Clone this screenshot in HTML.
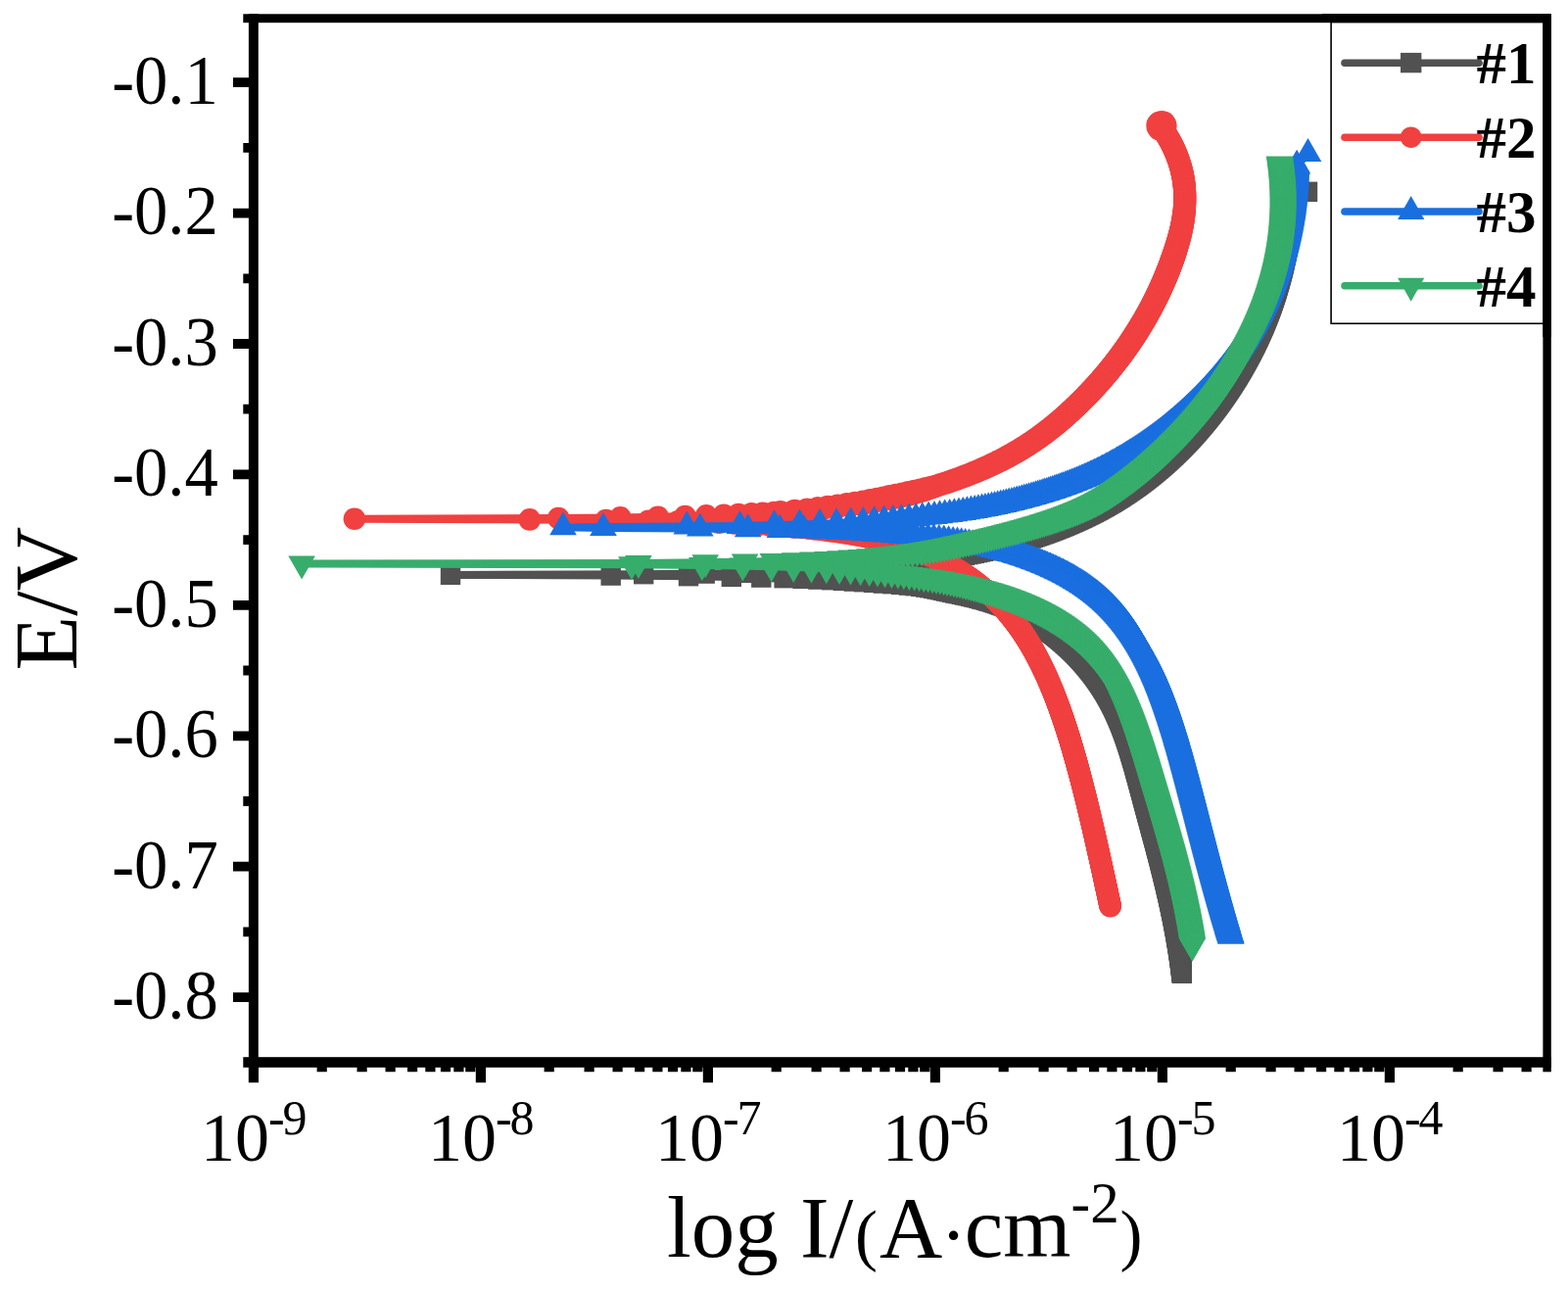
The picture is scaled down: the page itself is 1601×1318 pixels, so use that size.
<!DOCTYPE html>
<html lang="en"><head><meta charset="utf-8"><title>Polarization curves</title>
<style>html,body{margin:0;padding:0;background:#fff}body{width:1601px;height:1318px;overflow:hidden}svg{display:block}</style></head>
<body>
<svg width="1601" height="1318" viewBox="0 0 1601 1318">
<defs>
<marker id="mk" markerUnits="userSpaceOnUse" markerWidth="40" markerHeight="40" refX="20" refY="20" viewBox="0 0 40 40" overflow="visible"><rect x="9.8" y="9.8" width="20.4" height="20.4" fill="#515151"/></marker>
<marker id="mr" markerUnits="userSpaceOnUse" markerWidth="40" markerHeight="40" refX="20" refY="20" viewBox="0 0 40 40" overflow="visible"><circle cx="20" cy="20" r="11.3" fill="#F14040"/></marker>
<marker id="mb" markerUnits="userSpaceOnUse" markerWidth="40" markerHeight="40" refX="20" refY="20" viewBox="0 0 40 40" overflow="visible"><path d="M20 4L33.8 28H6.2Z" fill="#1A6FDF"/></marker>
<marker id="mg" markerUnits="userSpaceOnUse" markerWidth="40" markerHeight="40" refX="20" refY="20" viewBox="0 0 40 40" overflow="visible"><path d="M20 36L33.8 12H6.2Z" fill="#37AD6B"/></marker>
</defs>
<rect width="1601" height="1318" fill="#fff"/>
<g fill="none" stroke-width="8" stroke-linejoin="round" stroke-linecap="round">
<polyline stroke="#515151" marker-start="url(#mk)" marker-mid="url(#mk)" marker-end="url(#mk)" points="1206.8,993.8 1206.7,993.1 1206.7,992.4 1206.6,991.8 1206.5,991.1 1206.4,990.4 1206.4,989.8 1206.3,989.1 1206.2,988.4 1206.1,987.8 1206,987.1 1206,986.4 1205.9,985.8 1205.8,985.1 1205.7,984.4 1205.6,983.8 1205.6,983.1 1205.5,982.4 1205.4,981.8 1205.3,981.1 1205.2,980.4 1205.1,979.8 1205,979.1 1204.9,978.4 1204.8,977.8 1204.8,977.1 1204.7,976.4 1204.6,975.8 1204.5,975.1 1204.4,974.4 1204.3,973.8 1204.2,973.1 1204.1,972.4 1204,971.7 1203.9,971.1 1203.8,970.4 1203.7,969.7 1203.6,969.1 1203.5,968.4 1203.4,967.7 1203.3,967.1 1203.2,966.4 1203.1,965.7 1203,965.1 1202.9,964.4 1202.8,963.7 1202.7,963.1 1202.6,962.4 1202.5,961.7 1202.4,961.1 1202.3,960.4 1202.2,959.7 1202,959.1 1201.9,958.4 1201.8,957.7 1201.7,957.1 1201.6,956.4 1201.5,955.7 1201.4,955.1 1201.3,954.4 1201.1,953.7 1201,953.1 1200.9,952.4 1200.8,951.7 1200.7,951.1 1200.6,950.4 1200.4,949.7 1200.3,949.1 1200.2,948.4 1200.1,947.7 1200,947.1 1199.8,946.4 1199.7,945.7 1199.6,945.1 1199.5,944.4 1199.4,943.7 1199.2,943.1 1199.1,942.4 1199,941.7 1198.9,941.1 1198.7,940.4 1198.6,939.7 1198.5,939.1 1198.3,938.4 1198.2,937.7 1198.1,937.1 1198,936.4 1197.8,935.7 1197.7,935.1 1197.6,934.4 1197.4,933.7 1197.3,933.1 1197.2,932.4 1197,931.7 1196.9,931.1 1196.8,930.4 1196.6,929.7 1196.5,929.1 1196.4,928.4 1196.2,927.7 1196.1,927.1 1195.9,926.4 1195.8,925.7 1195.7,925.1 1195.5,924.4 1195.4,923.7 1195.2,923.1 1195.1,922.4 1195,921.7 1194.8,921.1 1194.7,920.4 1194.5,919.7 1194.4,919.1 1194.2,918.4 1194.1,917.7 1194,917.1 1193.8,916.4 1193.7,915.7 1193.5,915.1 1193.4,914.4 1193.2,913.7 1193.1,913.1 1192.9,912.4 1192.8,911.7 1192.6,911.1 1192.5,910.4 1192.3,909.7 1192.2,909.1 1192,908.4 1191.9,907.7 1191.7,907.1 1191.6,906.4 1191.4,905.7 1191.3,905 1191.1,904.4 1190.9,903.7 1190.8,903 1190.6,902.4 1190.5,901.7 1190.3,901 1190.2,900.4 1190,899.7 1189.8,899 1189.7,898.4 1189.5,897.7 1189.4,897 1189.2,896.4 1189,895.7 1188.9,895 1188.7,894.4 1188.6,893.7 1188.4,893 1188.2,892.4 1188.1,891.7 1187.9,891 1187.7,890.4 1187.6,889.7 1187.4,889 1187.3,888.4 1187.1,887.7 1186.9,887 1186.8,886.4 1186.6,885.7 1186.4,885 1186.3,884.4 1186.1,883.7 1185.9,883 1185.8,882.4 1185.6,881.7 1185.4,881 1185.3,880.4 1185.1,879.7 1184.9,879 1184.7,878.4 1184.6,877.7 1184.4,877 1184.2,876.4 1184.1,875.7 1183.9,875 1183.7,874.4 1183.5,873.7 1183.4,873 1183.2,872.4 1183,871.7 1182.9,871 1182.7,870.4 1182.5,869.7 1182.3,869 1182.2,868.4 1182,867.7 1181.8,867 1181.6,866.4 1181.5,865.7 1181.3,865 1181.1,864.4 1180.9,863.7 1180.8,863 1180.6,862.4 1180.4,861.7 1180.2,861 1180.1,860.4 1179.9,859.7 1179.7,859 1179.5,858.4 1179.3,857.7 1179.2,857 1179,856.4 1178.8,855.7 1178.6,855 1178.5,854.4 1178.3,853.7 1178.1,853 1177.9,852.4 1177.7,851.7 1177.6,851 1177.4,850.4 1177.2,849.7 1177,849 1176.8,848.4 1176.7,847.7 1176.5,847 1176.3,846.4 1176.1,845.7 1175.9,845 1175.8,844.4 1175.6,843.7 1175.4,843 1175.2,842.4 1175,841.7 1174.9,841 1174.7,840.4 1174.5,839.7 1174.3,839 1174.1,838.3 1174,837.7 1173.8,837 1173.6,836.3 1173.4,835.7 1173.2,835 1173.1,834.3 1172.9,833.7 1172.7,833 1172.5,832.3 1172.3,831.7 1172.1,831 1172,830.3 1171.8,829.7 1171.6,829 1171.4,828.3 1171.2,827.7 1171.1,827 1170.9,826.3 1170.7,825.7 1170.5,825 1170.3,824.3 1170.2,823.7 1170,823 1169.8,822.3 1169.6,821.7 1169.4,821 1169.3,820.3 1169.1,819.7 1168.9,819 1168.7,818.3 1168.5,817.7 1168.4,817 1168.2,816.3 1168,815.7 1167.8,815 1167.7,814.3 1167.5,813.7 1167.3,813 1167.1,812.3 1166.9,811.7 1166.8,811 1166.6,810.3 1166.4,809.7 1166.2,809 1166.1,808.3 1165.9,807.7 1165.7,807 1165.5,806.3 1165.3,805.7 1165.2,805 1165,804.3 1164.8,803.7 1164.6,803 1164.5,802.3 1164.3,801.7 1164.1,801 1163.9,800.3 1163.7,799.7 1163.6,799 1163.4,798.3 1163.2,797.7 1163,797 1162.8,796.3 1162.7,795.7 1162.5,795 1162.3,794.3 1162.1,793.7 1161.9,793 1161.8,792.3 1161.6,791.7 1161.4,791 1161.2,790.3 1161,789.7 1160.8,789 1160.7,788.3 1160.5,787.7 1160.3,787 1160.1,786.3 1159.9,785.7 1159.7,785 1159.6,784.3 1159.4,783.7 1159.2,783 1159,782.3 1158.8,781.7 1158.6,781 1158.4,780.3 1158.2,779.7 1158.1,779 1157.9,778.3 1157.7,777.7 1157.5,777 1157.3,776.3 1157.1,775.7 1156.9,775 1156.7,774.3 1156.5,773.7 1156.3,773 1156.1,772.3 1155.9,771.6 1155.7,771 1155.5,770.3 1155.3,769.6 1155.1,769 1154.9,768.3 1154.7,767.6 1154.5,767 1154.3,766.3 1154.1,765.6 1153.9,765 1153.7,764.3 1153.5,763.6 1153.3,763 1153.1,762.3 1152.9,761.6 1152.7,761 1152.4,760.3 1152.2,759.6 1152,759 1151.8,758.3 1151.6,757.6 1151.4,757 1151.2,756.3 1150.9,755.6 1150.7,755 1150.5,754.3 1150.3,753.6 1150,753 1149.8,752.3 1149.6,751.6 1149.4,751 1149.1,750.3 1148.9,749.6 1148.7,749 1148.4,748.3 1148.2,747.6 1147.9,747 1147.7,746.3 1147.5,745.6 1147.2,745 1147,744.3 1146.7,743.6 1146.5,743 1146.2,742.3 1146,741.6 1145.7,741 1145.5,740.3 1145.2,739.6 1145,739 1144.7,738.3 1144.4,737.6 1144.2,737 1143.9,736.3 1143.6,735.6 1143.4,735 1143.1,734.3 1142.8,733.6 1142.5,733 1142.3,732.3 1142,731.6 1141.7,731 1141.4,730.3 1141.1,729.6 1140.8,729 1140.5,728.3 1140.2,727.6 1139.9,727 1139.6,726.3 1139.3,725.6 1139,725 1138.7,724.3 1138.4,723.6 1138.1,723 1137.8,722.3 1137.4,721.6 1137.1,721 1136.8,720.3 1136.5,719.6 1136.1,719 1135.8,718.3 1135.4,717.6 1135.1,717 1134.8,716.3 1134.4,715.6 1134.1,715 1133.7,714.3 1133.3,713.6 1133,713 1132.6,712.3 1132.2,711.6 1131.9,711 1131.5,710.3 1131.1,709.6 1130.7,709 1130.4,708.3 1130,707.6 1129.6,707 1129.2,706.3 1128.8,705.6 1128.4,704.9 1128,704.3 1127.6,703.6 1127.1,702.9 1126.7,702.3 1126.3,701.6 1125.9,700.9 1125.5,700.3 1125,699.6 1124.6,698.9 1124.1,698.3 1123.7,697.6 1123.3,696.9 1122.8,696.3 1122.4,695.6 1121.9,694.9 1121.4,694.3 1121,693.6 1120.5,692.9 1120,692.3 1119.5,691.6 1119.1,690.9 1118.6,690.3 1118.1,689.6 1117.6,688.9 1117.1,688.3 1116.6,687.6 1116.1,686.9 1115.6,686.3 1115.1,685.6 1114.5,684.9 1114,684.3 1113.5,683.6 1112.9,682.9 1112.4,682.3 1111.9,681.6 1111.3,680.9 1110.8,680.3 1110.2,679.6 1109.6,678.9 1109.1,678.3 1108.5,677.6 1107.9,676.9 1107.4,676.3 1106.8,675.6 1106.2,674.9 1105.6,674.3 1105,673.6 1104.4,672.9 1103.8,672.3 1103.1,671.6 1102.5,670.9 1101.9,670.3 1101.3,669.6 1100.6,668.9 1100,668.3 1099.3,667.6 1098.7,666.9 1098,666.3 1097.3,665.6 1096.7,664.9 1096,664.3 1095.3,663.6 1094.6,662.9 1093.9,662.3 1093.2,661.6 1092.5,660.9 1091.8,660.3 1091,659.6 1090.3,658.9 1089.6,658.3 1088.8,657.6 1088.1,656.9 1087.3,656.3 1086.5,655.6 1085.8,654.9 1085,654.3 1084.2,653.6 1083.4,652.9 1082.6,652.3 1081.8,651.6 1080.9,650.9 1080.1,650.3 1079.3,649.6 1078.4,648.9 1077.6,648.3 1076.7,647.6 1075.8,646.9 1074.9,646.3 1074,645.6 1073.1,644.9 1072.2,644.3 1071.3,643.6 1070.3,642.9 1069.4,642.3 1068.4,641.6 1067.5,640.9 1066.5,640.3 1065.5,639.6 1064.5,638.9 1063.5,638.2 1062.5,637.6 1061.4,636.9 1060.4,636.2 1059.3,635.6 1058.2,634.9 1057.1,634.2 1056,633.6 1054.9,632.9 1053.8,632.2 1052.6,631.6 1051.4,630.9 1050.2,630.2 1049,629.6 1047.7,628.9 1046.5,628.2 1045.2,627.6 1043.9,626.9 1042.5,626.2 1041.1,625.6 1039.7,624.9 1038.3,624.2 1036.8,623.6 1035.3,622.9 1033.8,622.2 1032.2,621.6 1030.6,620.9 1028.9,620.2 1027.2,619.6 1025.5,618.9 1023.7,618.2 1021.8,617.6 1019.9,616.9 1017.9,616.2 1015.9,615.6 1013.8,614.9 1011.6,614.2 1009.3,613.6 1007,612.9 1004.6,612.2 1002.1,611.6 999.5,610.9 996.8,610.2 994,609.6 991.1,608.9 988.1,608.2 984.9,607.6 981.8,606.9 978.5,606.2 975.3,605.6 972.1,604.9 969,604.2 966,603.6 962.9,602.9 959.8,602.2 956.6,601.6 953.1,600.9 949.3,600.2 945.1,599.6 940.2,598.9 934.5,598.2 927.9,597.6 920.1,596.9 911.4,596.2 901.9,595.6 892,594.9 882,594.2 871.8,593.6 860.9,592.9 849,592.2 835.4,591.6 819.6,590.9 800.6,590.2 777.3,589.6 746.8,588.9 703,588.2 623.7,587.6 460,586.9 657.2,586.2 719.7,585.6 757.9,584.9 785.5,584.2 807.1,583.6 824.9,582.9 839.9,582.2 853,581.6 864.6,580.9 874.9,580.2 884.3,579.6 892.9,578.9 900.8,578.2 908.2,577.6 915,576.9 921.4,576.2 927.4,575.6 933.1,574.9 938.6,574.2 943.7,573.6 948.6,572.9 953.3,572.2 957.8,571.5 962.1,570.9 966.2,570.2 970.2,569.5 974.1,568.9 977.8,568.2 981.4,567.5 984.9,566.9 988.3,566.2 991.6,565.5 994.8,564.9 998,564.2 1001,563.5 1004,562.9 1006.9,562.2 1009.8,561.5 1012.6,560.9 1015.3,560.2 1018,559.5 1020.6,558.9 1023.1,558.2 1025.7,557.5 1028.1,556.9 1030.6,556.2 1032.9,555.5 1035.3,554.9 1037.6,554.2 1039.8,553.5 1042.1,552.9 1044.3,552.2 1046.4,551.5 1048.5,550.9 1050.6,550.2 1052.7,549.5 1054.7,548.9 1056.7,548.2 1058.7,547.5 1060.6,546.9 1062.5,546.2 1064.4,545.5 1066.3,544.9 1068.1,544.2 1069.9,543.5 1071.7,542.9 1073.5,542.2 1075.2,541.5 1076.9,540.9 1078.6,540.2 1080.3,539.5 1082,538.9 1083.6,538.2 1085.3,537.5 1086.9,536.9 1088.4,536.2 1090,535.5 1091.6,534.9 1093.1,534.2 1094.6,533.5 1096.1,532.9 1097.6,532.2 1099.1,531.5 1100.5,530.9 1101.9,530.2 1103.4,529.5 1104.8,528.9 1106.2,528.2 1107.5,527.5 1108.9,526.9 1110.2,526.2 1111.6,525.5 1112.9,524.9 1114.2,524.2 1115.5,523.5 1116.8,522.9 1118.1,522.2 1119.3,521.5 1120.6,520.9 1121.8,520.2 1123,519.5 1124.2,518.9 1125.4,518.2 1126.6,517.5 1127.8,516.9 1129,516.2 1130.1,515.5 1131.3,514.9 1132.4,514.2 1133.5,513.5 1134.7,512.9 1135.8,512.2 1136.9,511.5 1137.9,510.9 1139,510.2 1140.1,509.5 1141.2,508.9 1142.2,508.2 1143.3,507.5 1144.3,506.9 1145.3,506.2 1146.3,505.5 1147.4,504.8 1148.4,504.2 1149.4,503.5 1150.4,502.8 1151.3,502.2 1152.3,501.5 1153.3,500.8 1154.2,500.2 1155.2,499.5 1156.1,498.8 1157.1,498.2 1158,497.5 1159,496.8 1159.9,496.2 1160.8,495.5 1161.7,494.8 1162.6,494.2 1163.5,493.5 1164.4,492.8 1165.3,492.2 1166.2,491.5 1167,490.8 1167.9,490.2 1168.8,489.5 1169.6,488.8 1170.5,488.2 1171.3,487.5 1172.2,486.8 1173,486.2 1173.8,485.5 1174.7,484.8 1175.5,484.2 1176.3,483.5 1177.1,482.8 1177.9,482.2 1178.7,481.5 1179.5,480.8 1180.3,480.2 1181.1,479.5 1181.9,478.8 1182.7,478.2 1183.5,477.5 1184.2,476.8 1185,476.2 1185.8,475.5 1186.5,474.8 1187.3,474.2 1188,473.5 1188.8,472.8 1189.5,472.2 1190.3,471.5 1191,470.8 1191.7,470.2 1192.5,469.5 1193.2,468.8 1193.9,468.2 1194.6,467.5 1195.3,466.8 1196,466.2 1196.8,465.5 1197.5,464.8 1198.2,464.2 1198.9,463.5 1199.5,462.8 1200.2,462.2 1200.9,461.5 1201.6,460.8 1202.3,460.2 1203,459.5 1203.6,458.8 1204.3,458.2 1205,457.5 1205.6,456.8 1206.3,456.2 1206.9,455.5 1207.6,454.8 1208.2,454.2 1208.9,453.5 1209.5,452.8 1210.2,452.2 1210.8,451.5 1211.4,450.8 1212.1,450.2 1212.7,449.5 1213.3,448.8 1213.9,448.2 1214.6,447.5 1215.2,446.8 1215.8,446.2 1216.4,445.5 1217,444.8 1217.6,444.2 1218.2,443.5 1218.8,442.8 1219.4,442.2 1220,441.5 1220.6,440.8 1221.2,440.2 1221.8,439.5 1222.3,438.8 1222.9,438.1 1223.5,437.5 1224.1,436.8 1224.6,436.1 1225.2,435.5 1225.8,434.8 1226.4,434.1 1226.9,433.5 1227.5,432.8 1228,432.1 1228.6,431.5 1229.1,430.8 1229.7,430.1 1230.2,429.5 1230.8,428.8 1231.3,428.1 1231.9,427.5 1232.4,426.8 1232.9,426.1 1233.5,425.5 1234,424.8 1234.5,424.1 1235.1,423.5 1235.6,422.8 1236.1,422.1 1236.6,421.5 1237.1,420.8 1237.7,420.1 1238.2,419.5 1238.7,418.8 1239.2,418.1 1239.7,417.5 1240.2,416.8 1240.7,416.1 1241.2,415.5 1241.7,414.8 1242.2,414.1 1242.7,413.5 1243.2,412.8 1243.7,412.1 1244.2,411.5 1244.6,410.8 1245.1,410.1 1245.6,409.5 1246.1,408.8 1246.6,408.1 1247,407.5 1247.5,406.8 1248,406.1 1248.4,405.5 1248.9,404.8 1249.4,404.1 1249.8,403.5 1250.3,402.8 1250.8,402.1 1251.2,401.5 1251.7,400.8 1252.1,400.1 1252.6,399.5 1253,398.8 1253.5,398.1 1253.9,397.5 1254.4,396.8 1254.8,396.1 1255.3,395.5 1255.7,394.8 1256.1,394.1 1256.6,393.5 1257,392.8 1257.4,392.1 1257.9,391.5 1258.3,390.8 1258.7,390.1 1259.1,389.5 1259.6,388.8 1260,388.1 1260.4,387.5 1260.8,386.8 1261.2,386.1 1261.7,385.5 1262.1,384.8 1262.5,384.1 1262.9,383.5 1263.3,382.8 1263.7,382.1 1264.1,381.5 1264.5,380.8 1264.9,380.1 1265.3,379.5 1265.7,378.8 1266.1,378.1 1266.5,377.5 1266.9,376.8 1267.3,376.1 1267.7,375.5 1268.1,374.8 1268.4,374.1 1268.8,373.5 1269.2,372.8 1269.6,372.1 1270,371.4 1270.3,370.8 1270.7,370.1 1271.1,369.4 1271.5,368.8 1271.8,368.1 1272.2,367.4 1272.6,366.8 1272.9,366.1 1273.3,365.4 1273.7,364.8 1274,364.1 1274.4,363.4 1274.8,362.8 1275.1,362.1 1275.5,361.4 1275.8,360.8 1276.2,360.1 1276.5,359.4 1276.9,358.8 1277.2,358.1 1277.6,357.4 1277.9,356.8 1278.3,356.1 1278.6,355.4 1278.9,354.8 1279.3,354.1 1279.6,353.4 1280,352.8 1280.3,352.1 1280.6,351.4 1281,350.8 1281.3,350.1 1281.6,349.4 1281.9,348.8 1282.3,348.1 1282.6,347.4 1282.9,346.8 1283.2,346.1 1283.5,345.4 1283.9,344.8 1284.2,344.1 1284.5,343.4 1284.8,342.8 1285.1,342.1 1285.4,341.4 1285.7,340.8 1286,340.1 1286.3,339.4 1286.6,338.8 1286.9,338.1 1287.3,337.4 1287.5,336.8 1287.8,336.1 1288.1,335.4 1288.4,334.8 1288.7,334.1 1289,333.4 1289.3,332.8 1289.6,332.1 1289.9,331.4 1290.2,330.8 1290.5,330.1 1290.7,329.4 1291,328.8 1291.3,328.1 1291.6,327.4 1291.9,326.8 1292.1,326.1 1292.4,325.4 1292.7,324.8 1292.9,324.1 1293.2,323.4 1293.5,322.8 1293.8,322.1 1294,321.4 1294.3,320.8 1294.5,320.1 1294.8,319.4 1295.1,318.8 1295.3,318.1 1295.6,317.4 1295.8,316.8 1296.1,316.1 1296.3,315.4 1296.6,314.8 1296.8,314.1 1297.1,313.4 1297.3,312.8 1297.6,312.1 1297.8,311.4 1298.1,310.8 1298.3,310.1 1298.5,309.4 1298.8,308.8 1299,308.1 1299.2,307.4 1299.5,306.8 1299.7,306.1 1299.9,305.4 1300.2,304.7 1300.4,304.1 1300.6,303.4 1300.8,302.7 1301.1,302.1 1301.3,301.4 1301.5,300.7 1301.7,300.1 1301.9,299.4 1302.2,298.7 1302.4,298.1 1302.6,297.4 1302.8,296.7 1303,296.1 1303.2,295.4 1303.4,294.7 1303.6,294.1 1303.8,293.4 1304,292.7 1304.2,292.1 1304.5,291.4 1304.6,290.7 1304.8,290.1 1305,289.4 1305.2,288.7 1305.4,288.1 1305.6,287.4 1305.8,286.7 1306,286.1 1306.2,285.4 1306.4,284.7 1306.6,284.1 1306.8,283.4 1306.9,282.7 1307.1,282.1 1307.3,281.4 1307.5,280.7 1307.7,280.1 1307.9,279.4 1308,278.7 1308.2,278.1 1308.4,277.4 1308.6,276.7 1308.7,276.1 1308.9,275.4 1309.1,274.7 1309.2,274.1 1309.4,273.4 1309.6,272.7 1309.7,272.1 1309.9,271.4 1310.1,270.7 1310.2,270.1 1310.4,269.4 1310.5,268.7 1310.7,268.1 1310.9,267.4 1311,266.7 1311.2,266.1 1311.3,265.4 1311.5,264.7 1311.6,264.1 1311.8,263.4 1311.9,262.7 1312.1,262.1 1312.2,261.4 1312.4,260.7 1312.5,260.1 1312.7,259.4 1312.8,258.7 1313,258.1 1313.1,257.4 1313.3,256.7 1313.4,256.1 1313.5,255.4 1313.7,254.7 1313.8,254.1 1313.9,253.4 1314.1,252.7 1314.2,252.1 1314.4,251.4 1314.5,250.7 1314.6,250.1 1314.7,249.4 1314.9,248.7 1315,248.1 1315.1,247.4 1315.3,246.7 1315.4,246.1 1315.5,245.4 1315.6,244.7 1315.8,244.1 1315.9,243.4 1316,242.7 1316.1,242.1 1316.3,241.4 1316.4,240.7 1316.5,240.1 1316.6,239.4 1316.7,238.7 1316.8,238 1317,237.4 1317.1,236.7 1317.2,236 1317.3,235.4 1317.4,234.7 1317.5,234 1317.6,233.4 1317.7,232.7 1317.9,232 1318,231.4 1318.1,230.7 1318.2,230 1318.3,229.4 1318.4,228.7 1318.5,228 1318.6,227.4 1318.7,226.7 1318.8,226 1318.9,225.4 1319,224.7 1319.1,224 1319.2,223.4 1319.3,222.7 1319.4,222 1319.5,221.4 1319.6,220.7 1319.7,220 1319.8,219.4 1319.9,218.7 1320,218 1320.1,217.4 1320.2,216.7 1320.2,216 1320.3,215.4 1320.4,214.7 1320.5,214 1320.6,213.4 1320.7,212.7 1320.8,212 1320.9,211.4 1320.9,210.7 1321,210 1321.1,209.4 1321.2,208.7 1321.3,208 1321.4,207.4 1321.5,206.7 1321.5,206 1321.6,205.4 1321.7,204.7 1321.9,204 1322.1,203.4 1322.3,202.7 1322.4,202 1322.6,201.4 1322.8,200.7 1323,200 1323.1,199.4 1323.3,198.7 1323.5,198 1323.7,197.4 1335,195.8"/>
<polyline stroke="#F14040" marker-start="url(#mr)" marker-mid="url(#mr)" marker-end="url(#mr)" points="1133.7,925.2 1133.5,924.6 1133.4,923.9 1133.2,923.2 1133.1,922.6 1133,921.9 1132.8,921.2 1132.7,920.6 1132.5,919.9 1132.4,919.2 1132.2,918.6 1132.1,917.9 1132,917.2 1131.8,916.6 1131.7,915.9 1131.5,915.2 1131.4,914.6 1131.2,913.9 1131.1,913.2 1130.9,912.6 1130.8,911.9 1130.7,911.2 1130.5,910.6 1130.4,909.9 1130.2,909.2 1130.1,908.6 1129.9,907.9 1129.8,907.2 1129.7,906.6 1129.5,905.9 1129.4,905.2 1129.2,904.6 1129.1,903.9 1128.9,903.2 1128.8,902.6 1128.6,901.9 1128.5,901.2 1128.3,900.6 1128.2,899.9 1128.1,899.2 1127.9,898.6 1127.8,897.9 1127.6,897.2 1127.5,896.6 1127.3,895.9 1127.2,895.2 1127,894.6 1126.9,893.9 1126.8,893.2 1126.6,892.6 1126.5,891.9 1126.3,891.2 1126.2,890.6 1126,889.9 1125.9,889.2 1125.7,888.5 1125.6,887.9 1125.4,887.2 1125.3,886.5 1125.1,885.9 1125,885.2 1124.9,884.5 1124.7,883.9 1124.6,883.2 1124.4,882.5 1124.3,881.9 1124.1,881.2 1124,880.5 1123.8,879.9 1123.7,879.2 1123.5,878.5 1123.4,877.9 1123.2,877.2 1123.1,876.5 1122.9,875.9 1122.8,875.2 1122.6,874.5 1122.5,873.9 1122.3,873.2 1122.2,872.5 1122,871.9 1121.9,871.2 1121.7,870.5 1121.6,869.9 1121.4,869.2 1121.3,868.5 1121.1,867.9 1121,867.2 1120.8,866.5 1120.7,865.9 1120.5,865.2 1120.4,864.5 1120.2,863.9 1120.1,863.2 1119.9,862.5 1119.8,861.9 1119.6,861.2 1119.5,860.5 1119.3,859.9 1119.2,859.2 1119,858.5 1118.9,857.9 1118.7,857.2 1118.6,856.5 1118.4,855.9 1118.3,855.2 1118.1,854.5 1118,853.9 1117.8,853.2 1117.7,852.5 1117.5,851.9 1117.4,851.2 1117.2,850.5 1117.1,849.9 1116.9,849.2 1116.7,848.5 1116.6,847.9 1116.4,847.2 1116.3,846.5 1116.1,845.9 1116,845.2 1115.8,844.5 1115.7,843.9 1115.5,843.2 1115.4,842.5 1115.2,841.9 1115,841.2 1114.9,840.5 1114.7,839.9 1114.6,839.2 1114.4,838.5 1114.3,837.9 1114.1,837.2 1113.9,836.5 1113.8,835.9 1113.6,835.2 1113.5,834.5 1113.3,833.9 1113.2,833.2 1113,832.5 1112.8,831.9 1112.7,831.2 1112.5,830.5 1112.4,829.9 1112.2,829.2 1112,828.5 1111.9,827.9 1111.7,827.2 1111.6,826.5 1111.4,825.9 1111.2,825.2 1111.1,824.5 1110.9,823.9 1110.8,823.2 1110.6,822.5 1110.4,821.8 1110.3,821.2 1110.1,820.5 1109.9,819.8 1109.8,819.2 1109.6,818.5 1109.4,817.8 1109.3,817.2 1109.1,816.5 1109,815.8 1108.8,815.2 1108.6,814.5 1108.5,813.8 1108.3,813.2 1108.1,812.5 1108,811.8 1107.8,811.2 1107.6,810.5 1107.5,809.8 1107.3,809.2 1107.1,808.5 1107,807.8 1106.8,807.2 1106.6,806.5 1106.4,805.8 1106.3,805.2 1106.1,804.5 1105.9,803.8 1105.8,803.2 1105.6,802.5 1105.4,801.8 1105.2,801.2 1105.1,800.5 1104.9,799.8 1104.7,799.2 1104.6,798.5 1104.4,797.8 1104.2,797.2 1104,796.5 1103.9,795.8 1103.7,795.2 1103.5,794.5 1103.3,793.8 1103.2,793.2 1103,792.5 1102.8,791.8 1102.6,791.2 1102.5,790.5 1102.3,789.8 1102.1,789.2 1101.9,788.5 1101.7,787.8 1101.6,787.2 1101.4,786.5 1101.2,785.8 1101,785.2 1100.8,784.5 1100.7,783.8 1100.5,783.2 1100.3,782.5 1100.1,781.8 1099.9,781.2 1099.7,780.5 1099.6,779.8 1099.4,779.2 1099.2,778.5 1099,777.8 1098.8,777.2 1098.6,776.5 1098.4,775.8 1098.3,775.2 1098.1,774.5 1097.9,773.8 1097.7,773.2 1097.5,772.5 1097.3,771.8 1097.1,771.2 1096.9,770.5 1096.7,769.8 1096.5,769.2 1096.3,768.5 1096.2,767.8 1096,767.2 1095.8,766.5 1095.6,765.8 1095.4,765.2 1095.2,764.5 1095,763.8 1094.8,763.2 1094.6,762.5 1094.4,761.8 1094.2,761.2 1094,760.5 1093.8,759.8 1093.6,759.2 1093.4,758.5 1093.2,757.8 1093,757.2 1092.8,756.5 1092.6,755.8 1092.4,755.1 1092.2,754.5 1092,753.8 1091.8,753.1 1091.6,752.5 1091.4,751.8 1091.1,751.1 1090.9,750.5 1090.7,749.8 1090.5,749.1 1090.3,748.5 1090.1,747.8 1089.9,747.1 1089.7,746.5 1089.5,745.8 1089.2,745.1 1089,744.5 1088.8,743.8 1088.6,743.1 1088.4,742.5 1088.2,741.8 1087.9,741.1 1087.7,740.5 1087.5,739.8 1087.3,739.1 1087.1,738.5 1086.8,737.8 1086.6,737.1 1086.4,736.5 1086.2,735.8 1085.9,735.1 1085.7,734.5 1085.5,733.8 1085.3,733.1 1085,732.5 1084.8,731.8 1084.6,731.1 1084.3,730.5 1084.1,729.8 1083.9,729.1 1083.6,728.5 1083.4,727.8 1083.2,727.1 1082.9,726.5 1082.7,725.8 1082.5,725.1 1082.2,724.5 1082,723.8 1081.7,723.1 1081.5,722.5 1081.3,721.8 1081,721.1 1080.8,720.5 1080.5,719.8 1080.3,719.1 1080,718.5 1079.8,717.8 1079.5,717.1 1079.3,716.5 1079,715.8 1078.8,715.1 1078.5,714.5 1078.3,713.8 1078,713.1 1077.8,712.5 1077.5,711.8 1077.2,711.1 1077,710.5 1076.7,709.8 1076.5,709.1 1076.2,708.5 1075.9,707.8 1075.7,707.1 1075.4,706.5 1075.1,705.8 1074.9,705.1 1074.6,704.5 1074.3,703.8 1074,703.1 1073.8,702.5 1073.5,701.8 1073.2,701.1 1072.9,700.5 1072.6,699.8 1072.4,699.1 1072.1,698.5 1071.8,697.8 1071.5,697.1 1071.2,696.5 1070.9,695.8 1070.6,695.1 1070.4,694.5 1070.1,693.8 1069.8,693.1 1069.5,692.5 1069.2,691.8 1068.9,691.1 1068.6,690.5 1068.3,689.8 1068,689.1 1067.7,688.4 1067.4,687.8 1067.1,687.1 1066.7,686.4 1066.4,685.8 1066.1,685.1 1065.8,684.4 1065.5,683.8 1065.2,683.1 1064.9,682.4 1064.5,681.8 1064.2,681.1 1063.9,680.4 1063.6,679.8 1063.2,679.1 1062.9,678.4 1062.6,677.8 1062.2,677.1 1061.9,676.4 1061.6,675.8 1061.2,675.1 1060.9,674.4 1060.5,673.8 1060.2,673.1 1059.9,672.4 1059.5,671.8 1059.2,671.1 1058.8,670.4 1058.4,669.8 1058.1,669.1 1057.7,668.4 1057.4,667.8 1057,667.1 1056.6,666.4 1056.3,665.8 1055.9,665.1 1055.5,664.4 1055.2,663.8 1054.8,663.1 1054.4,662.4 1054,661.8 1053.6,661.1 1053.2,660.4 1052.9,659.8 1052.5,659.1 1052.1,658.4 1051.7,657.8 1051.3,657.1 1050.9,656.4 1050.5,655.8 1050.1,655.1 1049.6,654.4 1049.2,653.8 1048.8,653.1 1048.4,652.4 1048,651.8 1047.6,651.1 1047.1,650.4 1046.7,649.8 1046.3,649.1 1045.8,648.4 1045.4,647.8 1044.9,647.1 1044.5,646.4 1044.1,645.8 1043.6,645.1 1043.1,644.4 1042.7,643.8 1042.2,643.1 1041.8,642.4 1041.3,641.8 1040.8,641.1 1040.3,640.4 1039.9,639.8 1039.4,639.1 1038.9,638.4 1038.4,637.8 1037.9,637.1 1037.4,636.4 1036.9,635.8 1036.4,635.1 1035.9,634.4 1035.4,633.8 1034.9,633.1 1034.3,632.4 1033.8,631.8 1033.3,631.1 1032.8,630.4 1032.2,629.8 1031.7,629.1 1031.1,628.4 1030.6,627.8 1030,627.1 1029.5,626.4 1028.9,625.8 1028.3,625.1 1027.8,624.4 1027.2,623.8 1026.6,623.1 1026,622.4 1025.4,621.7 1024.8,621.1 1024.2,620.4 1023.6,619.7 1023,619.1 1022.4,618.4 1021.8,617.7 1021.1,617.1 1020.5,616.4 1019.9,615.7 1019.2,615.1 1018.6,614.4 1017.9,613.7 1017.3,613.1 1016.6,612.4 1015.9,611.7 1015.2,611.1 1014.6,610.4 1013.9,609.7 1013.2,609.1 1012.5,608.4 1011.8,607.7 1011,607.1 1010.3,606.4 1009.6,605.7 1008.9,605.1 1008.1,604.4 1007.4,603.7 1006.6,603.1 1005.8,602.4 1005.1,601.7 1004.3,601.1 1003.5,600.4 1002.7,599.7 1001.9,599.1 1001.1,598.4 1000.2,597.7 999.4,597.1 998.6,596.4 997.7,595.7 996.9,595.1 996,594.4 995.1,593.7 994.2,593.1 993.4,592.4 992.4,591.7 991.5,591.1 990.6,590.4 989.7,589.7 988.7,589.1 987.8,588.4 986.8,587.7 985.8,587.1 984.8,586.4 983.8,585.7 982.8,585.1 981.7,584.4 980.7,583.7 979.6,583.1 978.6,582.4 977.5,581.7 976.4,581.1 975.2,580.4 974.1,579.7 973,579.1 971.8,578.4 970.6,577.7 969.4,577.1 968.2,576.4 966.9,575.7 965.7,575.1 964.4,574.4 963.1,573.7 961.8,573.1 960.4,572.4 959,571.7 957.7,571.1 956.2,570.4 954.8,569.7 953.3,569.1 951.8,568.4 950.3,567.7 948.7,567.1 947.2,566.4 945.5,565.7 943.9,565.1 942.2,564.4 940.5,563.7 938.7,563.1 936.9,562.4 935.1,561.7 933.2,561.1 931.3,560.4 929.3,559.7 927.3,559.1 925.2,558.4 923.1,557.7 920.9,557.1 918.7,556.4 916.4,555.7 914,555 911.6,554.4 909,553.7 906.5,553 903.8,552.4 901,551.7 898.2,551 895.2,550.4 892.2,549.7 889,549 885.7,548.4 882.3,547.7 878.8,547 875.1,546.4 871.2,545.7 867.2,545 862.9,544.4 858.5,543.7 853.8,543 848.9,542.4 843.6,541.7 838.1,541 832.2,540.4 825.9,539.7 819.1,539 811.8,538.4 803.9,537.7 795.3,537 785.8,536.4 775.2,535.7 763.4,535 749.9,534.4 734.2,533.7 715.4,533 692.3,532.4 662.2,531.7 618.8,531 540.8,530.4 361.9,529.7 570.2,529 633.4,528.4 671.8,527.7 699.5,527 721.2,526.4 739,525.7 754.1,525 767.3,524.4 778.7,523.7 790.3,523 796.8,522.4 810.1,521.7 811.6,521 827.2,520.4 824.1,519.7 842.3,519 834.8,518.4 855.8,517.7 845.2,517 866.4,516.4 855.3,515.7 876.1,515 864.6,514.4 884.9,513.7 873.1,513 893.1,512.4 881,511.7 900.8,511 888.4,510.4 907.9,509.7 895.4,509 914.7,508.4 901.9,507.7 921.1,507 908.2,506.4 927.1,505.7 914.6,505 931.9,504.4 921.2,503.7 936.5,503 927.5,502.4 940.9,501.7 933.6,501 945,500.4 939.5,499.7 948.9,499 945.3,498.4 952.7,497.7 950.8,497 956.3,496.4 956.1,495.7 960.3,495 960.4,494.4 964.5,493.7 964.6,493 968.6,492.4 968.6,491.7 972.5,491 972.5,490.4 976.4,489.7 976.3,489 980.1,488.3 980,487.7 983.8,487 983.5,486.3 987.3,485.7 987,485 990.7,484.3 990.4,483.7 994.1,483 993.7,482.3 997.3,481.7 996.9,481 1000.5,480.3 1000.1,479.7 1003.6,479 1003.1,478.3 1006.6,477.7 1006.1,477 1009.6,476.3 1009,475.7 1012.5,475 1011.9,474.3 1015.3,473.7 1014.7,473 1018.1,472.3 1017.4,471.7 1020.7,471 1020.1,470.3 1023.4,469.7 1022.7,469 1026,468.3 1025.2,467.7 1028.5,467 1027.7,466.3 1031,465.7 1030.2,465 1033.4,464.3 1032.6,463.7 1035.8,463 1034.9,462.3 1038.1,461.7 1037.3,461 1040.4,460.3 1039.5,459.7 1042.6,459 1041.7,458.3 1044.8,457.7 1043.9,457 1047,456.3 1046,455.7 1049.1,455 1048.1,454.3 1051.1,453.7 1050.2,453 1053.2,452.3 1052.2,451.7 1055.2,451 1054.2,450.3 1057.1,449.7 1056.1,449 1059.1,448.3 1058,447.7 1061,447 1059.9,446.3 1062.8,445.7 1061.8,445 1064.7,444.3 1063.6,443.7 1066.5,443 1065.4,442.3 1068.3,441.7 1067.1,441 1070,440.3 1068.9,439.7 1071.7,439 1070.6,438.3 1073.4,437.7 1072.3,437 1075.1,436.3 1074,435.7 1076.8,435 1075.6,434.3 1078.4,433.7 1077.2,433 1080,432.3 1078.8,431.7 1081.6,431 1080.4,430.3 1083.2,429.7 1082,429 1084.8,428.3 1083.6,427.7 1086.3,427 1085.1,426.3 1087.8,425.7 1086.6,425 1089.4,424.3 1088.1,423.7 1090.8,423 1089.6,422.3 1092.3,421.6 1091.1,421 1093.8,420.3 1092.5,419.6 1095.2,419 1093.9,418.3 1096.7,417.6 1095.4,417 1098.1,416.3 1096.8,415.6 1099.5,415 1098.2,414.3 1100.9,413.6 1099.6,413 1102.3,412.3 1100.9,411.6 1103.6,411 1102.3,410.3 1105,409.6 1103.7,409 1106.3,408.3 1105,407.6 1107.6,407 1106.3,406.3 1109,405.6 1107.6,405 1110.3,404.3 1108.9,403.6 1111.6,403 1110.2,402.3 1112.8,401.6 1111.5,401 1114.1,400.3 1112.7,399.6 1115.4,399 1114,398.3 1116.6,397.6 1115.2,397 1117.9,396.3 1116.5,395.6 1119.1,395 1117.7,394.3 1120.3,393.6 1118.9,393 1121.5,392.3 1120.1,391.6 1122.7,391 1121.3,390.3 1123.9,389.6 1122.5,389 1125,388.3 1123.6,387.6 1126.2,387 1124.8,386.3 1127.4,385.6 1125.9,385 1128.5,384.3 1127.1,383.6 1129.6,383 1128.2,382.3 1130.8,381.6 1129.3,381 1131.9,380.3 1130.4,379.6 1133,379 1131.5,378.3 1134.1,377.6 1132.6,377 1135.1,376.3 1133.7,375.6 1136.2,375 1134.8,374.3 1137.3,373.6 1135.8,373 1138.3,372.3 1136.9,371.6 1139.4,371 1137.9,370.3 1140.4,369.6 1138.9,369 1141.4,368.3 1140,367.6 1142.5,367 1141,366.3 1143.5,365.6 1142,365 1144.5,364.3 1143,363.6 1145.5,363 1144,362.3 1146.5,361.6 1144.9,361 1147.4,360.3 1145.9,359.6 1148.4,359 1146.9,358.3 1149.4,357.6 1147.8,357 1150.3,356.3 1148.8,355.6 1151.2,354.9 1149.7,354.3 1152.2,353.6 1150.6,352.9 1153.1,352.3 1151.6,351.6 1154,350.9 1152.5,350.3 1154.9,349.6 1153.4,348.9 1155.8,348.3 1154.3,347.6 1156.7,346.9 1155.2,346.3 1157.6,345.6 1156.1,344.9 1158.5,344.3 1156.9,343.6 1159.4,342.9 1157.8,342.3 1160.2,341.6 1158.6,340.9 1161.1,340.3 1159.5,339.6 1161.9,338.9 1160.3,338.3 1162.8,337.6 1161.2,336.9 1163.6,336.3 1162,335.6 1164.4,334.9 1162.8,334.3 1165.2,333.6 1163.6,332.9 1166,332.3 1164.4,331.6 1166.8,330.9 1165.2,330.3 1167.6,329.6 1166,328.9 1168.4,328.3 1166.8,327.6 1169.2,326.9 1167.6,326.3 1170,325.6 1168.4,324.9 1170.7,324.3 1169.1,323.6 1171.5,322.9 1169.9,322.3 1172.2,321.6 1170.6,320.9 1173,320.3 1171.4,319.6 1173.7,318.9 1172.1,318.3 1174.5,317.6 1172.8,316.9 1175.2,316.3 1173.5,315.6 1175.9,314.9 1174.3,314.3 1176.6,313.6 1175,312.9 1177.3,312.3 1175.7,311.6 1178,310.9 1176.3,310.3 1178.7,309.6 1177,308.9 1179.4,308.3 1177.7,307.6 1180,306.9 1178.4,306.3 1180.7,305.6 1179,304.9 1181.4,304.3 1179.7,303.6 1182,302.9 1180.4,302.3 1182.7,301.6 1181,300.9 1183.3,300.3 1181.6,299.6 1184,298.9 1182.3,298.3 1184.6,297.6 1182.9,296.9 1185.2,296.3 1183.5,295.6 1185.8,294.9 1184.1,294.3 1186.4,293.6 1184.7,292.9 1187,292.3 1185.3,291.6 1187.6,290.9 1185.9,290.3 1188.2,289.6 1186.5,288.9 1188.8,288.2 1187.1,287.6 1189.4,286.9 1187.7,286.2 1190,285.6 1188.2,284.9 1190.5,284.2 1188.8,283.6 1191.1,282.9 1189.4,282.2 1191.6,281.6 1189.9,280.9 1192.2,280.2 1190.4,279.6 1192.7,278.9 1191,278.2 1193.3,277.6 1191.5,276.9 1193.8,276.2 1192,275.6 1194.3,274.9 1192.6,274.2 1194.8,273.6 1193.1,272.9 1195.3,272.2 1193.6,271.6 1195.8,270.9 1194.1,270.2 1196.3,269.6 1194.6,268.9 1196.8,268.2 1195.1,267.6 1197.3,266.9 1195.5,266.2 1197.8,265.6 1196,264.9 1198.3,264.2 1196.5,263.6 1198.7,262.9 1197,262.2 1199.2,261.6 1197.4,260.9 1199.6,260.2 1197.9,259.6 1200.1,258.9 1198.3,258.2 1200.5,257.6 1198.8,256.9 1200.9,256.2 1199.3,255.6 1201.3,254.9 1199.7,254.2 1201.7,253.6 1200.1,252.9 1202.1,252.2 1200.6,251.6 1202.5,250.9 1201,250.2 1202.9,249.6 1201.4,248.9 1203.3,248.2 1201.8,247.6 1203.7,246.9 1202.2,246.2 1204,245.6 1202.6,244.9 1204.4,244.2 1203,243.6 1204.7,242.9 1203.4,242.2 1205.1,241.6 1203.7,240.9 1205.4,240.2 1204.1,239.6 1205.7,238.9 1204.5,238.2 1206,237.6 1204.8,236.9 1206.3,236.2 1205.1,235.6 1206.6,234.9 1205.4,234.2 1206.9,233.6 1205.8,232.9 1207.1,232.2 1206.1,231.6 1207.4,230.9 1206.3,230.2 1207.6,229.6 1206.6,228.9 1207.9,228.2 1206.9,227.6 1208.1,226.9 1207.1,226.2 1208.3,225.6 1207.4,224.9 1208.5,224.2 1207.6,223.6 1208.7,222.9 1207.8,222.2 1208.9,221.5 1208,220.9 1209,220.2 1208.2,219.5 1209.2,218.9 1208.4,218.2 1209.3,217.5 1208.6,216.9 1209.5,216.2 1208.8,215.5 1209.6,214.9 1208.9,214.2 1209.7,213.5 1209,212.9 1209.8,212.2 1209.2,211.5 1209.8,210.9 1209.3,210.2 1209.9,209.5 1209.4,208.9 1210,208.2 1209.4,207.5 1210,206.9 1209.5,206.2 1210.1,205.5 1209.5,204.9 1210.1,204.2 1209.5,203.5 1210.1,202.9 1209.5,202.2 1210.1,201.5 1209.5,200.9 1210.1,200.2 1209.5,199.5 1210.1,198.9 1209.5,198.2 1210,197.5 1209.4,196.9 1210,196.2 1209.4,195.5 1209.9,194.9 1209.3,194.2 1209.8,193.5 1209.2,192.9 1209.7,192.2 1209.1,191.5 1209.6,190.9 1208.9,190.2 1209.5,189.5 1208.8,188.9 1209.3,188.2 1208.7,187.5 1209.2,186.9 1208.5,186.2 1209,185.5 1208.3,184.9 1208.8,184.2 1208.1,183.5 1208.6,182.9 1207.9,182.2 1208.4,181.5 1207.6,180.9 1208.1,180.2 1207.4,179.5 1207.9,178.9 1207.1,178.2 1207.6,177.5 1206.8,176.9 1207.3,176.2 1206.5,175.5 1207,174.9 1206.2,174.2 1206.7,173.5 1205.9,172.9 1206.3,172.2 1205.5,171.5 1206,170.9 1205.2,170.2 1205.6,169.5 1204.8,168.9 1205.2,168.2 1204.4,167.5 1204.8,166.9 1204,166.2 1204.4,165.5 1203.5,164.9 1203.9,164.2 1203.1,163.5 1203.5,162.9 1202.6,162.2 1203,161.5 1202.1,160.9 1202.5,160.2 1201.6,159.5 1202,158.9 1201.1,158.2 1201.4,157.5 1200.6,156.9 1200.9,156.2 1200,155.5 1200.3,154.8 1199.4,154.2 1199.7,153.5 1198.8,152.8 1199.1,152.2 1198.2,151.5 1198.5,150.8 1197.6,150.2 1197.9,149.5 1196.9,148.8 1197.2,148.2 1196.3,147.5 1196.5,146.8 1195.6,146.2 1195.8,145.5 1194.9,144.8 1195.1,144.2 1194.1,143.5 1194.4,142.8 1193.4,142.2 1193.6,141.5 1192.6,140.8 1192.8,140.2 1191.8,139.5 1192,138.8 1191,138.2 1191.2,137.5 1190.2,136.8 1190.4,136.2 1189.4,135.5 1189.6,134.8 1188.5,134.2 1181.9,127.1 1181.8,129.8 1183.3,132.1 1185.8,133 1188.5,132.2 1190.1,130.1 1190.2,127.4 1188.7,125.1 1186.2,124.2 1183.5,125 1181.9,127.1"/>
<polyline stroke="#1A6FDF" marker-start="url(#mb)" marker-mid="url(#mb)" marker-end="url(#mb)" points="1256.9,955.8 1256.7,955.1 1256.5,954.4 1256.3,953.8 1256.1,953.1 1255.9,952.4 1255.6,951.8 1255.4,951.1 1255.2,950.4 1255,949.8 1254.8,949.1 1254.6,948.4 1254.4,947.8 1254.2,947.1 1254,946.4 1253.8,945.8 1253.6,945.1 1253.5,944.4 1253.3,943.8 1253.1,943.1 1252.9,942.4 1252.7,941.8 1252.5,941.1 1252.3,940.4 1252.1,939.8 1251.9,939.1 1251.7,938.4 1251.5,937.8 1251.3,937.1 1251.1,936.4 1250.9,935.8 1250.7,935.1 1250.5,934.4 1250.3,933.8 1250.1,933.1 1249.9,932.4 1249.7,931.8 1249.5,931.1 1249.3,930.4 1249.1,929.8 1249,929.1 1248.8,928.4 1248.6,927.8 1248.4,927.1 1248.2,926.4 1248,925.8 1247.8,925.1 1247.6,924.4 1247.4,923.8 1247.2,923.1 1247,922.4 1246.8,921.8 1246.7,921.1 1246.5,920.4 1246.3,919.8 1246.1,919.1 1245.9,918.4 1245.7,917.8 1245.5,917.1 1245.3,916.4 1245.1,915.8 1245,915.1 1244.8,914.4 1244.6,913.8 1244.4,913.1 1244.2,912.4 1244,911.8 1243.8,911.1 1243.6,910.4 1243.5,909.8 1243.3,909.1 1243.1,908.4 1242.9,907.8 1242.7,907.1 1242.5,906.4 1242.4,905.8 1242.2,905.1 1242,904.4 1241.8,903.7 1241.6,903.1 1241.4,902.4 1241.2,901.7 1241.1,901.1 1240.9,900.4 1240.7,899.7 1240.5,899.1 1240.3,898.4 1240.1,897.7 1240,897.1 1239.8,896.4 1239.6,895.7 1239.4,895.1 1239.2,894.4 1239.1,893.7 1238.9,893.1 1238.7,892.4 1238.5,891.7 1238.3,891.1 1238.2,890.4 1238,889.7 1237.8,889.1 1237.6,888.4 1237.4,887.7 1237.3,887.1 1237.1,886.4 1236.9,885.7 1236.7,885.1 1236.5,884.4 1236.4,883.7 1236.2,883.1 1236,882.4 1235.8,881.7 1235.6,881.1 1235.5,880.4 1235.3,879.7 1235.1,879.1 1234.9,878.4 1234.8,877.7 1234.6,877.1 1234.4,876.4 1234.2,875.7 1234,875.1 1233.9,874.4 1233.7,873.7 1233.5,873.1 1233.3,872.4 1233.2,871.7 1233,871.1 1232.8,870.4 1232.6,869.7 1232.5,869.1 1232.3,868.4 1232.1,867.7 1231.9,867.1 1231.8,866.4 1231.6,865.7 1231.4,865.1 1231.2,864.4 1231.1,863.7 1230.9,863.1 1230.7,862.4 1230.5,861.7 1230.4,861.1 1230.2,860.4 1230,859.7 1229.8,859.1 1229.7,858.4 1229.5,857.7 1229.3,857.1 1229.2,856.4 1229,855.7 1228.8,855.1 1228.6,854.4 1228.5,853.7 1228.3,853.1 1228.1,852.4 1227.9,851.7 1227.8,851.1 1227.6,850.4 1227.4,849.7 1227.3,849.1 1227.1,848.4 1226.9,847.7 1226.7,847.1 1226.6,846.4 1226.4,845.7 1226.2,845.1 1226,844.4 1225.9,843.7 1225.7,843.1 1225.5,842.4 1225.4,841.7 1225.2,841.1 1225,840.4 1224.8,839.7 1224.7,839.1 1224.5,838.4 1224.3,837.7 1224.2,837 1224,836.4 1223.8,835.7 1223.6,835 1223.5,834.4 1223.3,833.7 1223.1,833 1223,832.4 1222.8,831.7 1222.6,831 1222.4,830.4 1222.3,829.7 1222.1,829 1221.9,828.4 1221.8,827.7 1221.6,827 1221.4,826.4 1221.2,825.7 1221.1,825 1220.9,824.4 1220.7,823.7 1220.6,823 1220.4,822.4 1220.2,821.7 1220,821 1219.9,820.4 1219.7,819.7 1219.5,819 1219.4,818.4 1219.2,817.7 1219,817 1218.8,816.4 1218.7,815.7 1218.5,815 1218.3,814.4 1218.2,813.7 1218,813 1217.8,812.4 1217.6,811.7 1217.5,811 1217.3,810.4 1217.1,809.7 1217,809 1216.8,808.4 1216.6,807.7 1216.4,807 1216.3,806.4 1216.1,805.7 1215.9,805 1215.7,804.4 1215.6,803.7 1215.4,803 1215.2,802.4 1215,801.7 1214.9,801 1214.7,800.4 1214.5,799.7 1214.4,799 1214.2,798.4 1214,797.7 1213.8,797 1213.7,796.4 1213.5,795.7 1213.3,795 1213.1,794.4 1213,793.7 1212.8,793 1212.6,792.4 1212.4,791.7 1212.2,791 1212.1,790.4 1211.9,789.7 1211.7,789 1211.5,788.4 1211.4,787.7 1211.2,787 1211,786.4 1210.8,785.7 1210.7,785 1210.5,784.4 1210.3,783.7 1210.1,783 1209.9,782.4 1209.8,781.7 1209.6,781 1209.4,780.4 1209.2,779.7 1209,779 1208.9,778.4 1208.7,777.7 1208.5,777 1208.3,776.4 1208.1,775.7 1208,775 1207.8,774.4 1207.6,773.7 1207.4,773 1207.2,772.4 1207,771.7 1206.9,771 1206.7,770.3 1206.5,769.7 1206.3,769 1206.1,768.3 1205.9,767.7 1205.7,767 1205.6,766.3 1205.4,765.7 1205.2,765 1205,764.3 1204.8,763.7 1204.6,763 1204.4,762.3 1204.2,761.7 1204.1,761 1203.9,760.3 1203.7,759.7 1203.5,759 1203.3,758.3 1203.1,757.7 1202.9,757 1202.7,756.3 1202.5,755.7 1202.3,755 1202.1,754.3 1201.9,753.7 1201.7,753 1201.6,752.3 1201.4,751.7 1201.2,751 1201,750.3 1200.8,749.7 1200.6,749 1200.4,748.3 1200.2,747.7 1200,747 1199.8,746.3 1199.6,745.7 1199.4,745 1199.2,744.3 1199,743.7 1198.8,743 1198.6,742.3 1198.4,741.7 1198.1,741 1197.9,740.3 1197.7,739.7 1197.5,739 1197.3,738.3 1197.1,737.7 1196.9,737 1196.7,736.3 1196.5,735.7 1196.3,735 1196.1,734.3 1195.8,733.7 1195.6,733 1195.4,732.3 1195.2,731.7 1195,731 1194.8,730.3 1194.6,729.7 1194.3,729 1194.1,728.3 1193.9,727.7 1193.7,727 1193.5,726.3 1193.2,725.7 1193,725 1192.8,724.3 1192.6,723.7 1192.3,723 1192.1,722.3 1191.9,721.7 1191.7,721 1191.4,720.3 1191.2,719.7 1191,719 1190.7,718.3 1190.5,717.7 1190.3,717 1190,716.3 1189.8,715.7 1189.6,715 1189.3,714.3 1189.1,713.7 1188.8,713 1188.6,712.3 1188.4,711.7 1188.1,711 1187.9,710.3 1187.6,709.7 1187.4,709 1187.1,708.3 1186.9,707.7 1186.6,707 1186.4,706.3 1186.1,705.7 1185.9,705 1185.6,704.3 1185.3,703.6 1185.1,703 1184.8,702.3 1184.6,701.6 1184.3,701 1184,700.3 1183.8,699.6 1183.5,699 1183.2,698.3 1183,697.6 1182.7,697 1182.4,696.3 1182.2,695.6 1181.9,695 1181.6,694.3 1181.3,693.6 1181.1,693 1180.8,692.3 1180.5,691.6 1180.2,691 1179.9,690.3 1179.6,689.6 1179.3,689 1179,688.3 1178.8,687.6 1178.5,687 1178.2,686.3 1177.9,685.6 1177.6,685 1177.3,684.3 1177,683.6 1176.7,683 1176.3,682.3 1176,681.6 1175.7,681 1175.4,680.3 1175.1,679.6 1174.8,679 1174.5,678.3 1174.1,677.6 1173.8,677 1173.5,676.3 1173.2,675.6 1172.8,675 1172.5,674.3 1172.2,673.6 1171.8,673 1171.5,672.3 1171.1,671.6 1170.8,671 1170.5,670.3 1170.1,669.6 1169.8,669 1169.4,668.3 1169,667.6 1168.7,667 1168.3,666.3 1168,665.6 1167.6,665 1167.2,664.3 1166.9,663.6 1166.5,663 1166.1,662.3 1165.7,661.6 1165.3,661 1165,660.3 1164.6,659.6 1164.2,659 1163.8,658.3 1163.4,657.6 1163,657 1162.6,656.3 1162.2,655.6 1161.8,655 1161.3,654.3 1160.9,653.6 1160.5,653 1160.1,652.3 1159.7,651.6 1159.2,651 1158.8,650.3 1158.3,649.6 1157.9,649 1157.5,648.3 1157,647.6 1156.6,647 1156.1,646.3 1155.6,645.6 1155.2,645 1154.7,644.3 1154.2,643.6 1153.7,643 1153.3,642.3 1152.8,641.6 1152.3,641 1151.8,640.3 1151.3,639.6 1150.8,639 1150.3,638.3 1149.8,637.6 1149.2,636.9 1148.7,636.3 1148.2,635.6 1147.7,634.9 1147.1,634.3 1146.6,633.6 1146,632.9 1145.5,632.3 1144.9,631.6 1144.3,630.9 1143.8,630.3 1143.2,629.6 1142.6,628.9 1142,628.3 1141.4,627.6 1140.8,626.9 1140.2,626.3 1139.6,625.6 1139,624.9 1138.4,624.3 1137.7,623.6 1137.1,622.9 1136.4,622.3 1135.8,621.6 1135.1,620.9 1134.5,620.3 1133.8,619.6 1133.1,618.9 1132.4,618.3 1131.7,617.6 1131,616.9 1130.3,616.3 1129.6,615.6 1128.8,614.9 1128.1,614.3 1127.3,613.6 1126.6,612.9 1125.8,612.3 1125,611.6 1124.2,610.9 1123.5,610.3 1122.6,609.6 1121.8,608.9 1121,608.3 1120.2,607.6 1119.3,606.9 1118.5,606.3 1117.6,605.6 1116.7,604.9 1115.8,604.3 1114.9,603.6 1114,602.9 1113.1,602.3 1112.1,601.6 1111.2,600.9 1110.2,600.3 1109.3,599.6 1108.3,598.9 1107.3,598.3 1106.2,597.6 1105.2,596.9 1104.2,596.3 1103.1,595.6 1102,594.9 1100.9,594.3 1099.8,593.6 1098.7,592.9 1097.6,592.3 1096.4,591.6 1095.3,590.9 1094.1,590.3 1092.9,589.6 1091.7,588.9 1090.4,588.3 1089.2,587.6 1087.9,586.9 1086.6,586.3 1085.3,585.6 1084,584.9 1082.6,584.3 1081.2,583.6 1079.8,582.9 1078.4,582.3 1077,581.6 1075.5,580.9 1074,580.3 1072.5,579.6 1071,578.9 1069.4,578.3 1067.8,577.6 1066.2,576.9 1064.5,576.3 1062.9,575.6 1061.2,574.9 1059.4,574.3 1057.6,573.6 1055.8,572.9 1054,572.3 1052.1,571.6 1050.2,570.9 1048.2,570.2 1046.2,569.6 1044.2,568.9 1042.1,568.2 1040,567.6 1037.8,566.9 1035.6,566.2 1033.3,565.6 1030.9,564.9 1028.5,564.2 1026,563.6 1023.5,562.9 1020.9,562.2 1018.2,561.6 1015.4,560.9 1012.5,560.2 1009.6,559.6 1006.5,558.9 1003.3,558.2 1000.1,557.6 996.7,556.9 993.2,556.2 989.5,555.6 985.7,554.9 981.7,554.2 977.5,553.6 973.2,552.9 968.6,552.2 963.8,551.6 958.8,550.9 953.4,550.2 947.7,549.6 941.7,548.9 935.2,548.2 928.3,547.6 920.8,546.9 912.7,546.2 903.8,545.6 894.1,544.9 883.2,544.2 871,543.6 856.9,542.9 840.6,542.2 820.9,541.6 796.4,540.9 763.7,540.2 714.8,539.6 616,538.9 575,538.2 701.3,537.6 755.5,536.9 790.6,536.2 816.5,535.6 837.1,534.9 854.1,534.2 868.7,533.6 881.4,532.9 892.6,532.2 902.7,531.6 911.9,530.9 920.3,530.2 928,529.6 935.2,528.9 941.8,528.2 948.1,527.6 954,526.9 959.5,526.2 964.7,525.6 969.7,524.9 974.4,524.2 979,523.6 983.3,522.9 987.4,522.2 991.4,521.6 995.2,520.9 998.9,520.2 1002.5,519.6 1005.9,518.9 1009.2,518.2 1012.5,517.6 1015.6,516.9 1018.7,516.2 1021.7,515.6 1024.6,514.9 1027.4,514.2 1030.2,513.6 1032.9,512.9 1035.6,512.2 1038.2,511.6 1040.7,510.9 1043.3,510.2 1045.7,509.6 1048.1,508.9 1050.5,508.2 1052.9,507.6 1055.2,506.9 1057.5,506.2 1059.7,505.6 1061.9,504.9 1064.1,504.2 1066.2,503.5 1068.3,502.9 1070.4,502.2 1072.4,501.5 1074.4,500.9 1076.4,500.2 1078.3,499.5 1080.2,498.9 1082.1,498.2 1084,497.5 1085.8,496.9 1087.7,496.2 1089.4,495.5 1091.2,494.9 1092.9,494.2 1094.6,493.5 1096.3,492.9 1098,492.2 1099.7,491.5 1101.3,490.9 1102.9,490.2 1104.5,489.5 1106,488.9 1107.5,488.2 1109.1,487.5 1110.6,486.9 1112,486.2 1113.5,485.5 1114.9,484.9 1116.4,484.2 1117.8,483.5 1119.2,482.9 1120.5,482.2 1121.9,481.5 1123.2,480.9 1124.5,480.2 1125.8,479.5 1127.1,478.9 1128.4,478.2 1129.7,477.5 1130.9,476.9 1132.2,476.2 1133.4,475.5 1134.6,474.9 1135.8,474.2 1137,473.5 1138.2,472.9 1139.4,472.2 1140.5,471.5 1141.7,470.9 1142.8,470.2 1144,469.5 1145.1,468.9 1146.2,468.2 1147.3,467.5 1148.4,466.9 1149.5,466.2 1150.6,465.5 1151.7,464.9 1152.8,464.2 1153.8,463.5 1154.9,462.9 1155.9,462.2 1157,461.5 1158,460.9 1159,460.2 1160,459.5 1161,458.9 1162,458.2 1163,457.5 1164,456.9 1165,456.2 1166,455.5 1167,454.9 1167.9,454.2 1168.9,453.5 1169.8,452.9 1170.8,452.2 1171.7,451.5 1172.6,450.9 1173.6,450.2 1174.5,449.5 1175.4,448.9 1176.3,448.2 1177.2,447.5 1178.1,446.9 1179,446.2 1179.9,445.5 1180.8,444.9 1181.7,444.2 1182.5,443.5 1183.4,442.9 1184.3,442.2 1185.1,441.5 1186,440.9 1186.8,440.2 1187.7,439.5 1188.5,438.9 1189.3,438.2 1190.2,437.5 1191,436.8 1191.8,436.2 1192.6,435.5 1193.4,434.8 1194.2,434.2 1195,433.5 1195.8,432.8 1196.6,432.2 1197.4,431.5 1198.2,430.8 1198.9,430.2 1199.7,429.5 1200.5,428.8 1201.2,428.2 1202,427.5 1202.8,426.8 1203.5,426.2 1204.3,425.5 1205,424.8 1205.7,424.2 1206.5,423.5 1207.2,422.8 1207.9,422.2 1208.7,421.5 1209.4,420.8 1210.1,420.2 1210.8,419.5 1211.5,418.8 1212.2,418.2 1212.9,417.5 1213.6,416.8 1214.3,416.2 1215,415.5 1215.7,414.8 1216.4,414.2 1217.1,413.5 1217.7,412.8 1218.4,412.2 1219.1,411.5 1219.8,410.8 1220.4,410.2 1221.1,409.5 1221.7,408.8 1222.4,408.2 1223,407.5 1223.7,406.8 1224.3,406.2 1225,405.5 1225.6,404.8 1226.2,404.2 1226.9,403.5 1227.5,402.8 1228.1,402.2 1228.7,401.5 1229.4,400.8 1230,400.2 1230.6,399.5 1231.2,398.8 1231.8,398.2 1232.4,397.5 1233,396.8 1233.6,396.2 1234.2,395.5 1234.8,394.8 1235.4,394.2 1236,393.5 1236.6,392.8 1237.1,392.2 1237.7,391.5 1238.3,390.8 1238.9,390.2 1239.4,389.5 1240,388.8 1240.6,388.2 1241.1,387.5 1241.7,386.8 1242.2,386.2 1242.8,385.5 1243.3,384.8 1243.9,384.2 1244.4,383.5 1245,382.8 1245.5,382.2 1246,381.5 1246.6,380.8 1247.1,380.2 1247.6,379.5 1248.2,378.8 1248.7,378.2 1249.2,377.5 1249.7,376.8 1250.2,376.2 1250.8,375.5 1251.3,374.8 1251.8,374.2 1252.3,373.5 1252.8,372.8 1253.3,372.2 1253.8,371.5 1254.3,370.8 1254.8,370.1 1255.3,369.5 1255.8,368.8 1256.3,368.1 1256.7,367.5 1257.2,366.8 1257.7,366.1 1258.2,365.5 1258.7,364.8 1259.1,364.1 1259.6,363.5 1260.1,362.8 1260.5,362.1 1261,361.5 1261.5,360.8 1261.9,360.1 1262.4,359.5 1262.8,358.8 1263.3,358.1 1263.7,357.5 1264.2,356.8 1264.6,356.1 1265.1,355.5 1265.5,354.8 1266,354.1 1266.4,353.5 1266.8,352.8 1267.3,352.1 1267.7,351.5 1268.1,350.8 1268.6,350.1 1269,349.5 1269.4,348.8 1269.8,348.1 1270.2,347.5 1270.7,346.8 1271.1,346.1 1271.5,345.5 1271.9,344.8 1272.3,344.1 1272.7,343.5 1273.1,342.8 1273.5,342.1 1273.9,341.5 1274.3,340.8 1274.7,340.1 1275.1,339.5 1275.5,338.8 1275.9,338.1 1276.3,337.5 1276.7,336.8 1277,336.1 1277.4,335.5 1277.8,334.8 1278.2,334.1 1278.6,333.5 1278.9,332.8 1279.3,332.1 1279.7,331.5 1280.1,330.8 1280.4,330.1 1280.8,329.5 1281.1,328.8 1281.5,328.1 1281.9,327.5 1282.2,326.8 1282.6,326.1 1282.9,325.5 1283.3,324.8 1283.6,324.1 1284,323.5 1284.3,322.8 1284.7,322.1 1285,321.5 1285.4,320.8 1285.7,320.1 1286,319.5 1286.4,318.8 1286.7,318.1 1287,317.5 1287.4,316.8 1287.7,316.1 1288,315.5 1288.4,314.8 1288.7,314.1 1289,313.5 1289.3,312.8 1289.6,312.1 1290,311.5 1290.3,310.8 1290.6,310.1 1290.9,309.5 1291.2,308.8 1291.5,308.1 1291.8,307.5 1292.1,306.8 1292.4,306.1 1292.7,305.5 1293,304.8 1293.3,304.1 1293.6,303.4 1293.9,302.8 1294.2,302.1 1294.5,301.4 1294.8,300.8 1295.1,300.1 1295.4,299.4 1295.6,298.8 1295.9,298.1 1296.2,297.4 1296.5,296.8 1296.8,296.1 1297,295.4 1297.3,294.8 1297.6,294.1 1297.9,293.4 1298.1,292.8 1298.4,292.1 1298.7,291.4 1298.9,290.8 1299.2,290.1 1299.4,289.4 1299.7,288.8 1300,288.1 1300.2,287.4 1300.5,286.8 1300.7,286.1 1301,285.4 1301.2,284.8 1301.5,284.1 1301.7,283.4 1302,282.8 1302.2,282.1 1302.5,281.4 1302.7,280.8 1302.9,280.1 1303.2,279.4 1303.4,278.8 1303.6,278.1 1303.9,277.4 1304.1,276.8 1304.3,276.1 1304.6,275.4 1304.8,274.8 1305,274.1 1305.2,273.4 1305.5,272.8 1305.7,272.1 1305.9,271.4 1306.1,270.8 1306.3,270.1 1306.6,269.4 1306.8,268.8 1307,268.1 1307.2,267.4 1307.4,266.8 1307.6,266.1 1307.8,265.4 1308,264.8 1308.2,264.1 1308.4,263.4 1308.6,262.8 1308.8,262.1 1309,261.4 1309.2,260.8 1309.4,260.1 1309.6,259.4 1309.8,258.8 1310,258.1 1310.2,257.4 1310.4,256.8 1310.6,256.1 1310.7,255.4 1310.9,254.8 1311.1,254.1 1311.3,253.4 1311.5,252.8 1311.6,252.1 1311.8,251.4 1312,250.8 1312.2,250.1 1312.3,249.4 1312.5,248.8 1312.7,248.1 1312.8,247.4 1313,246.8 1313.2,246.1 1313.3,245.4 1313.5,244.8 1313.7,244.1 1313.8,243.4 1314,242.8 1314.1,242.1 1314.3,241.4 1314.4,240.8 1314.6,240.1 1314.7,239.4 1314.9,238.8 1315,238.1 1315.2,237.4 1315.3,236.7 1315.5,236.1 1315.6,235.4 1315.8,234.7 1315.9,234.1 1316,233.4 1316.2,232.7 1316.3,232.1 1316.4,231.4 1316.6,230.7 1316.7,230.1 1316.8,229.4 1317,228.7 1317.1,228.1 1317.2,227.4 1317.3,226.7 1317.5,226.1 1317.6,225.4 1317.7,224.7 1317.8,224.1 1317.9,223.4 1318.1,222.7 1318.2,222.1 1318.3,221.4 1318.4,220.7 1318.5,220.1 1318.6,219.4 1318.7,218.7 1318.8,218.1 1319,217.4 1319.1,216.7 1319.2,216.1 1319.3,215.4 1319.4,214.7 1319.5,214.1 1319.6,213.4 1319.7,212.7 1319.8,212.1 1319.9,211.4 1320,210.7 1320,210.1 1320.1,209.4 1320.2,208.7 1320.3,208.1 1320.4,207.4 1320.5,206.7 1320.6,206.1 1320.7,205.4 1320.7,204.7 1320.8,204.1 1320.9,203.4 1321,202.7 1321.1,202.1 1321.1,201.4 1321.2,200.7 1321.3,200.1 1321.4,199.4 1321.4,198.7 1321.5,198.1 1321.6,197.4 1321.6,196.7 1321.7,196.1 1321.8,195.4 1321.8,194.7 1321.9,194.1 1322,193.4 1322,192.7 1322.1,192.1 1322.1,191.4 1322.2,190.7 1322.2,190.1 1322.3,189.4 1322.3,188.7 1322.4,188.1 1322.4,187.4 1322.5,186.7 1322.5,186.1 1322.6,185.4 1322.6,184.7 1322.7,184.1 1322.7,183.4 1322.8,182.7 1322.8,182.1 1322.8,181.4 1322.9,180.7 1322.9,180.1 1323,179.4 1323,178.7 1323,178.1 1323.1,177.4 1323.1,176.7 1323.1,176.1 1323.2,175.4 1323.2,174.7 1323.2,174.1 1323.2,173.4 1323.3,172.7 1323.3,172.1 1323.4,171.4 1323.6,170.7 1323.8,170 1324,169.4 1324.2,168.7 1335.5,157"/>
<polyline stroke="#37AD6B" marker-start="url(#mg)" marker-mid="url(#mg)" marker-end="url(#mg)" points="1217.4,965.8 1217.3,965.1 1217.2,964.4 1217.1,963.8 1217,963.1 1216.9,962.4 1216.8,961.8 1216.7,961.1 1216.6,960.4 1216.5,959.8 1216.4,959.1 1216.2,958.4 1216.1,957.8 1216,957.1 1215.9,956.4 1215.8,955.8 1215.7,955.1 1215.6,954.4 1215.5,953.8 1215.3,953.1 1215.2,952.4 1215.1,951.8 1215,951.1 1214.9,950.4 1214.7,949.8 1214.6,949.1 1214.5,948.4 1214.4,947.8 1214.3,947.1 1214.1,946.4 1214,945.8 1213.9,945.1 1213.8,944.4 1213.6,943.8 1213.5,943.1 1213.4,942.4 1213.3,941.8 1213.1,941.1 1213,940.4 1212.9,939.8 1212.7,939.1 1212.6,938.4 1212.5,937.8 1212.4,937.1 1212.2,936.4 1212.1,935.8 1212,935.1 1211.8,934.4 1211.7,933.8 1211.5,933.1 1211.4,932.4 1211.3,931.8 1211.1,931.1 1211,930.4 1210.9,929.8 1210.7,929.1 1210.6,928.4 1210.4,927.8 1210.3,927.1 1210.1,926.4 1210,925.8 1209.9,925.1 1209.7,924.4 1209.6,923.8 1209.4,923.1 1209.3,922.4 1209.1,921.8 1209,921.1 1208.8,920.4 1208.7,919.7 1208.5,919.1 1208.4,918.4 1208.2,917.7 1208.1,917.1 1207.9,916.4 1207.8,915.7 1207.6,915.1 1207.5,914.4 1207.3,913.7 1207.2,913.1 1207,912.4 1206.9,911.7 1206.7,911.1 1206.6,910.4 1206.4,909.7 1206.2,909.1 1206.1,908.4 1205.9,907.7 1205.8,907.1 1205.6,906.4 1205.4,905.7 1205.3,905.1 1205.1,904.4 1205,903.7 1204.8,903.1 1204.6,902.4 1204.5,901.7 1204.3,901.1 1204.1,900.4 1204,899.7 1203.8,899.1 1203.6,898.4 1203.5,897.7 1203.3,897.1 1203.1,896.4 1203,895.7 1202.8,895.1 1202.6,894.4 1202.5,893.7 1202.3,893.1 1202.1,892.4 1202,891.7 1201.8,891.1 1201.6,890.4 1201.4,889.7 1201.3,889.1 1201.1,888.4 1200.9,887.7 1200.7,887.1 1200.6,886.4 1200.4,885.7 1200.2,885.1 1200,884.4 1199.9,883.7 1199.7,883.1 1199.5,882.4 1199.3,881.7 1199.2,881.1 1199,880.4 1198.8,879.7 1198.6,879.1 1198.4,878.4 1198.3,877.7 1198.1,877.1 1197.9,876.4 1197.7,875.7 1197.5,875.1 1197.3,874.4 1197.2,873.7 1197,873.1 1196.8,872.4 1196.6,871.7 1196.4,871.1 1196.2,870.4 1196.1,869.7 1195.9,869.1 1195.7,868.4 1195.5,867.7 1195.3,867.1 1195.1,866.4 1194.9,865.7 1194.8,865.1 1194.6,864.4 1194.4,863.7 1194.2,863.1 1194,862.4 1193.8,861.7 1193.6,861.1 1193.4,860.4 1193.2,859.7 1193.1,859.1 1192.9,858.4 1192.7,857.7 1192.5,857.1 1192.3,856.4 1192.1,855.7 1191.9,855.1 1191.7,854.4 1191.5,853.7 1191.3,853 1191.1,852.4 1190.9,851.7 1190.8,851 1190.6,850.4 1190.4,849.7 1190.2,849 1190,848.4 1189.8,847.7 1189.6,847 1189.4,846.4 1189.2,845.7 1189,845 1188.8,844.4 1188.6,843.7 1188.4,843 1188.2,842.4 1188,841.7 1187.8,841 1187.6,840.4 1187.4,839.7 1187.2,839 1187,838.4 1186.8,837.7 1186.6,837 1186.5,836.4 1186.3,835.7 1186.1,835 1185.9,834.4 1185.7,833.7 1185.5,833 1185.3,832.4 1185.1,831.7 1184.9,831 1184.7,830.4 1184.5,829.7 1184.3,829 1184.1,828.4 1183.9,827.7 1183.7,827 1183.5,826.4 1183.3,825.7 1183.1,825 1182.9,824.4 1182.7,823.7 1182.5,823 1182.3,822.4 1182.1,821.7 1181.9,821 1181.7,820.4 1181.5,819.7 1181.3,819 1181.1,818.4 1180.9,817.7 1180.7,817 1180.5,816.4 1180.3,815.7 1180.1,815 1179.9,814.4 1179.7,813.7 1179.5,813 1179.3,812.4 1179.1,811.7 1178.9,811 1178.7,810.4 1178.5,809.7 1178.3,809 1178.1,808.4 1177.9,807.7 1177.7,807 1177.5,806.4 1177.3,805.7 1177.1,805 1176.9,804.4 1176.7,803.7 1176.5,803 1176.3,802.4 1176.1,801.7 1175.9,801 1175.7,800.4 1175.5,799.7 1175.3,799 1175.1,798.4 1174.9,797.7 1174.7,797 1174.5,796.4 1174.3,795.7 1174.1,795 1173.9,794.4 1173.7,793.7 1173.5,793 1173.3,792.4 1173.1,791.7 1172.9,791 1172.7,790.4 1172.5,789.7 1172.3,789 1172.1,788.4 1171.9,787.7 1171.7,787 1171.5,786.3 1171.3,785.7 1171.1,785 1170.9,784.3 1170.7,783.7 1170.5,783 1170.3,782.3 1170.1,781.7 1169.9,781 1169.7,780.3 1169.5,779.7 1169.2,779 1169,778.3 1168.8,777.7 1168.6,777 1168.4,776.3 1168.2,775.7 1168,775 1167.8,774.3 1167.6,773.7 1167.4,773 1167.2,772.3 1166.9,771.7 1166.7,771 1166.5,770.3 1166.3,769.7 1166.1,769 1165.9,768.3 1165.7,767.7 1165.4,767 1165.2,766.3 1165,765.7 1164.8,765 1164.6,764.3 1164.4,763.7 1164.1,763 1163.9,762.3 1163.7,761.7 1163.5,761 1163.3,760.3 1163,759.7 1162.8,759 1162.6,758.3 1162.4,757.7 1162.1,757 1161.9,756.3 1161.7,755.7 1161.5,755 1161.2,754.3 1161,753.7 1160.8,753 1160.5,752.3 1160.3,751.7 1160.1,751 1159.8,750.3 1159.6,749.7 1159.4,749 1159.1,748.3 1158.9,747.7 1158.7,747 1158.4,746.3 1158.2,745.7 1157.9,745 1157.7,744.3 1157.5,743.7 1157.2,743 1157,742.3 1156.7,741.7 1156.5,741 1156.2,740.3 1156,739.7 1155.7,739 1155.5,738.3 1155.2,737.7 1155,737 1154.7,736.3 1154.5,735.7 1154.2,735 1154,734.3 1153.7,733.7 1153.4,733 1153.2,732.3 1152.9,731.7 1152.7,731 1152.4,730.3 1152.1,729.7 1151.8,729 1151.6,728.3 1151.3,727.7 1151,727 1150.8,726.3 1150.5,725.7 1150.2,725 1149.9,724.3 1149.6,723.7 1149.4,723 1149.1,722.3 1148.8,721.7 1148.5,721 1148.2,720.3 1147.9,719.6 1147.6,719 1147.3,718.3 1147,717.6 1146.7,717 1146.4,716.3 1146.1,715.6 1145.8,715 1145.5,714.3 1145.2,713.6 1144.9,713 1144.6,712.3 1144.3,711.6 1144,711 1143.7,710.3 1143.3,709.6 1143,709 1142.7,708.3 1142.4,707.6 1142,707 1141.7,706.3 1141.4,705.6 1141,705 1140.7,704.3 1140.3,703.6 1140,703 1139.7,702.3 1139.3,701.6 1139,701 1138.6,700.3 1138.2,699.6 1137.9,699 1137.5,698.3 1137.2,697.6 1136.8,697 1136.4,696.3 1136,695.6 1135.7,695 1135.3,694.3 1134.9,693.6 1134.5,693 1134.1,692.3 1133.7,691.6 1133.3,691 1132.9,690.3 1132.5,689.6 1132.1,689 1131.7,688.3 1131.3,687.6 1130.9,687 1130.5,686.3 1130,685.6 1129.6,685 1129.2,684.3 1128.7,683.6 1128.3,683 1127.9,682.3 1127.4,681.6 1127,681 1126.5,680.3 1126,679.6 1125.6,679 1125.1,678.3 1124.6,677.6 1124.1,677 1123.7,676.3 1123.2,675.6 1122.7,675 1122.2,674.3 1121.7,673.6 1121.2,673 1120.7,672.3 1120.1,671.6 1119.6,671 1119.1,670.3 1118.5,669.6 1118,669 1117.5,668.3 1116.9,667.6 1116.4,667 1115.8,666.3 1115.2,665.6 1114.6,665 1114.1,664.3 1113.5,663.6 1112.9,663 1112.3,662.3 1111.7,661.6 1111,661 1110.4,660.3 1109.8,659.6 1109.2,659 1108.5,658.3 1107.9,657.6 1107.2,657 1106.5,656.3 1105.9,655.6 1105.2,655 1104.5,654.3 1103.8,653.6 1103.1,652.9 1102.4,652.3 1101.6,651.6 1100.9,650.9 1100.1,650.3 1099.4,649.6 1098.6,648.9 1097.9,648.3 1097.1,647.6 1096.3,646.9 1095.5,646.3 1094.7,645.6 1093.8,644.9 1093,644.3 1092.1,643.6 1091.3,642.9 1090.4,642.3 1089.5,641.6 1088.6,640.9 1087.7,640.3 1086.8,639.6 1085.9,638.9 1085,638.3 1084,637.6 1083,636.9 1082.1,636.3 1081.1,635.6 1080.1,634.9 1079.1,634.3 1078,633.6 1077,632.9 1075.9,632.3 1074.8,631.6 1073.8,630.9 1072.6,630.3 1071.5,629.6 1070.4,628.9 1069.2,628.3 1068.1,627.6 1066.9,626.9 1065.7,626.3 1064.5,625.6 1063.2,624.9 1062,624.3 1060.7,623.6 1059.4,622.9 1058.1,622.3 1056.8,621.6 1055.4,620.9 1054.1,620.3 1052.7,619.6 1051.2,618.9 1049.8,618.3 1048.3,617.6 1046.9,616.9 1045.4,616.3 1043.8,615.6 1042.3,614.9 1040.7,614.3 1039.1,613.6 1037.4,612.9 1035.7,612.3 1034,611.6 1032.3,610.9 1030.5,610.3 1028.7,609.6 1026.9,608.9 1025,608.3 1023.1,607.6 1021.2,606.9 1019.2,606.3 1017.2,605.6 1015.1,604.9 1013,604.3 1010.8,603.6 1008.6,602.9 1006.3,602.3 1004,601.6 1001.6,600.9 999.2,600.3 996.7,599.6 994.1,598.9 991.5,598.3 988.8,597.6 986,596.9 983.1,596.3 980.1,595.6 977,594.9 973.9,594.3 970.6,593.6 967.1,592.9 963.6,592.3 959.9,591.6 956,590.9 952,590.3 947.7,589.6 943.3,588.9 938.6,588.3 933.7,587.6 928.4,586.9 922.8,586.2 916.9,585.6 910.5,584.9 903.5,584.2 896,583.6 887.7,582.9 878.6,582.2 868.5,581.6 857,580.9 843.8,580.2 828.5,579.6 810.2,578.9 787.6,578.2 758.3,577.6 716.8,576.9 645,576.2 308.1,575.6 651.9,574.9 720.2,574.2 760.6,573.6 789.3,572.9 811.6,572.2 829.8,571.6 845,570.9 858,570.2 869.2,569.6 879.2,568.9 888,568.2 896,567.6 903.2,566.9 909.9,566.2 916,565.6 921.7,564.9 927,564.2 931.9,563.6 936.6,562.9 941.1,562.2 945.3,561.6 949.4,560.9 953.2,560.2 957,559.6 960.6,558.9 964.1,558.2 967.4,557.6 970.7,556.9 974,556.2 977.1,555.6 980.2,554.9 983.3,554.2 986.3,553.6 989.2,552.9 992.1,552.2 995.1,551.6 997.9,550.9 1000.8,550.2 1003.6,549.6 1006.5,548.9 1009.3,548.2 1012.1,547.6 1014.8,546.9 1017.6,546.2 1020.3,545.6 1023,544.9 1025.7,544.2 1028.3,543.6 1030.9,542.9 1033.5,542.2 1036.1,541.6 1038.6,540.9 1041.1,540.2 1043.6,539.6 1046,538.9 1048.4,538.2 1050.8,537.6 1053.1,536.9 1055.4,536.2 1057.7,535.6 1060,534.9 1062.2,534.2 1064.4,533.6 1066.5,532.9 1068.7,532.2 1070.8,531.6 1072.8,530.9 1074.9,530.2 1076.9,529.6 1078.9,528.9 1080.8,528.2 1082.8,527.6 1084.7,526.9 1086.5,526.2 1088.4,525.6 1090.2,524.9 1092,524.2 1093.7,523.6 1095.5,522.9 1097.2,522.2 1098.8,521.6 1100.5,520.9 1102.1,520.2 1103.7,519.5 1105.3,518.9 1106.8,518.2 1108.3,517.5 1109.8,516.9 1111.3,516.2 1112.7,515.5 1114.1,514.9 1115.5,514.2 1116.9,513.5 1118.2,512.9 1119.5,512.2 1120.8,511.5 1122,510.9 1123.2,510.2 1124.5,509.5 1125.6,508.9 1126.8,508.2 1127.9,507.5 1129.1,506.9 1130.2,506.2 1131.3,505.5 1132.4,504.9 1133.4,504.2 1134.5,503.5 1135.5,502.9 1136.5,502.2 1137.5,501.5 1138.5,500.9 1139.5,500.2 1140.5,499.5 1141.5,498.9 1142.5,498.2 1143.4,497.5 1144.4,496.9 1145.3,496.2 1146.3,495.5 1147.2,494.9 1148.2,494.2 1149.1,493.5 1150,492.9 1150.9,492.2 1151.8,491.5 1152.8,490.9 1153.7,490.2 1154.6,489.5 1155.4,488.9 1156.3,488.2 1157.2,487.5 1158.1,486.9 1159,486.2 1159.8,485.5 1160.7,484.9 1161.5,484.2 1162.4,483.5 1163.2,482.9 1164.1,482.2 1164.9,481.5 1165.8,480.9 1166.6,480.2 1167.4,479.5 1168.2,478.9 1169,478.2 1169.9,477.5 1170.7,476.9 1171.5,476.2 1172.3,475.5 1173.1,474.9 1173.9,474.2 1174.6,473.5 1175.4,472.9 1176.2,472.2 1177,471.5 1177.8,470.9 1178.5,470.2 1179.3,469.5 1180,468.9 1180.8,468.2 1181.6,467.5 1182.3,466.9 1183.1,466.2 1183.8,465.5 1184.5,464.9 1185.3,464.2 1186,463.5 1186.7,462.9 1187.5,462.2 1188.2,461.5 1188.9,460.9 1189.6,460.2 1190.3,459.5 1191.1,458.9 1191.8,458.2 1192.5,457.5 1193.2,456.9 1193.9,456.2 1194.6,455.5 1195.3,454.9 1195.9,454.2 1196.6,453.5 1197.3,452.8 1198,452.2 1198.7,451.5 1199.3,450.8 1200,450.2 1200.7,449.5 1201.3,448.8 1202,448.2 1202.7,447.5 1203.3,446.8 1204,446.2 1204.6,445.5 1205.3,444.8 1205.9,444.2 1206.6,443.5 1207.2,442.8 1207.9,442.2 1208.5,441.5 1209.1,440.8 1209.8,440.2 1210.4,439.5 1211,438.8 1211.6,438.2 1212.3,437.5 1212.9,436.8 1213.5,436.2 1214.1,435.5 1214.7,434.8 1215.3,434.2 1215.9,433.5 1216.5,432.8 1217.1,432.2 1217.7,431.5 1218.3,430.8 1218.9,430.2 1219.5,429.5 1220.1,428.8 1220.7,428.2 1221.3,427.5 1221.9,426.8 1222.5,426.2 1223,425.5 1223.6,424.8 1224.2,424.2 1224.8,423.5 1225.3,422.8 1225.9,422.2 1226.5,421.5 1227,420.8 1227.6,420.2 1228.2,419.5 1228.7,418.8 1229.3,418.2 1229.8,417.5 1230.4,416.8 1230.9,416.2 1231.5,415.5 1232,414.8 1232.6,414.2 1233.1,413.5 1233.6,412.8 1234.2,412.2 1234.7,411.5 1235.2,410.8 1235.8,410.2 1236.3,409.5 1236.8,408.8 1237.3,408.2 1237.9,407.5 1238.4,406.8 1238.9,406.2 1239.4,405.5 1239.9,404.8 1240.4,404.2 1241,403.5 1241.5,402.8 1242,402.2 1242.5,401.5 1243,400.8 1243.5,400.2 1244,399.5 1244.5,398.8 1244.9,398.2 1245.4,397.5 1245.9,396.8 1246.4,396.2 1246.9,395.5 1247.4,394.8 1247.8,394.2 1248.3,393.5 1248.8,392.8 1249.3,392.2 1249.7,391.5 1250.2,390.8 1250.7,390.2 1251.1,389.5 1251.6,388.8 1252.1,388.2 1252.5,387.5 1253,386.8 1253.4,386.1 1253.9,385.5 1254.3,384.8 1254.8,384.1 1255.2,383.5 1255.7,382.8 1256.1,382.1 1256.6,381.5 1257,380.8 1257.5,380.1 1257.9,379.5 1258.3,378.8 1258.8,378.1 1259.2,377.5 1259.6,376.8 1260,376.1 1260.5,375.5 1260.9,374.8 1261.3,374.1 1261.7,373.5 1262.1,372.8 1262.5,372.1 1263,371.5 1263.4,370.8 1263.8,370.1 1264.2,369.5 1264.6,368.8 1265,368.1 1265.4,367.5 1265.8,366.8 1266.2,366.1 1266.6,365.5 1267,364.8 1267.4,364.1 1267.8,363.5 1268.1,362.8 1268.5,362.1 1268.9,361.5 1269.3,360.8 1269.7,360.1 1270,359.5 1270.4,358.8 1270.8,358.1 1271.2,357.5 1271.5,356.8 1271.9,356.1 1272.3,355.5 1272.6,354.8 1273,354.1 1273.4,353.5 1273.7,352.8 1274.1,352.1 1274.4,351.5 1274.8,350.8 1275.1,350.1 1275.5,349.5 1275.8,348.8 1276.2,348.1 1276.5,347.5 1276.9,346.8 1277.2,346.1 1277.5,345.5 1277.9,344.8 1278.2,344.1 1278.5,343.5 1278.9,342.8 1279.2,342.1 1279.5,341.5 1279.8,340.8 1280.2,340.1 1280.5,339.5 1280.8,338.8 1281.1,338.1 1281.4,337.5 1281.8,336.8 1282.1,336.1 1282.4,335.5 1282.7,334.8 1283,334.1 1283.3,333.5 1283.6,332.8 1283.9,332.1 1284.2,331.5 1284.5,330.8 1284.8,330.1 1285.1,329.5 1285.4,328.8 1285.7,328.1 1286,327.5 1286.3,326.8 1286.5,326.1 1286.8,325.5 1287.1,324.8 1287.4,324.1 1287.7,323.5 1287.9,322.8 1288.2,322.1 1288.5,321.5 1288.8,320.8 1289,320.1 1289.3,319.4 1289.6,318.8 1289.8,318.1 1290.1,317.4 1290.3,316.8 1290.6,316.1 1290.9,315.4 1291.1,314.8 1291.4,314.1 1291.6,313.4 1291.9,312.8 1292.1,312.1 1292.4,311.4 1292.6,310.8 1292.8,310.1 1293.1,309.4 1293.3,308.8 1293.6,308.1 1293.8,307.4 1294,306.8 1294.3,306.1 1294.5,305.4 1294.7,304.8 1295,304.1 1295.2,303.4 1295.4,302.8 1295.6,302.1 1295.8,301.4 1296.1,300.8 1296.3,300.1 1296.5,299.4 1296.7,298.8 1296.9,298.1 1297.1,297.4 1297.3,296.8 1297.5,296.1 1297.7,295.4 1297.9,294.8 1298.1,294.1 1298.3,293.4 1298.5,292.8 1298.7,292.1 1298.9,291.4 1299.1,290.8 1299.3,290.1 1299.5,289.4 1299.7,288.8 1299.9,288.1 1300.1,287.4 1300.2,286.8 1300.4,286.1 1300.6,285.4 1300.8,284.8 1301,284.1 1301.1,283.4 1301.3,282.8 1301.5,282.1 1301.6,281.4 1301.8,280.8 1302,280.1 1302.1,279.4 1302.3,278.8 1302.4,278.1 1302.6,277.4 1302.8,276.8 1302.9,276.1 1303.1,275.4 1303.2,274.8 1303.4,274.1 1303.5,273.4 1303.7,272.8 1303.8,272.1 1304,271.4 1304.1,270.8 1304.2,270.1 1304.4,269.4 1304.5,268.8 1304.6,268.1 1304.8,267.4 1304.9,266.8 1305,266.1 1305.2,265.4 1305.3,264.8 1305.4,264.1 1305.5,263.4 1305.7,262.8 1305.8,262.1 1305.9,261.4 1306,260.8 1306.1,260.1 1306.2,259.4 1306.4,258.8 1306.5,258.1 1306.6,257.4 1306.7,256.8 1306.8,256.1 1306.9,255.4 1307,254.8 1307.1,254.1 1307.2,253.4 1307.3,252.7 1307.4,252.1 1307.5,251.4 1307.6,250.7 1307.7,250.1 1307.7,249.4 1307.8,248.7 1307.9,248.1 1308,247.4 1308.1,246.7 1308.2,246.1 1308.2,245.4 1308.3,244.7 1308.4,244.1 1308.5,243.4 1308.5,242.7 1308.6,242.1 1308.7,241.4 1308.7,240.7 1308.8,240.1 1308.9,239.4 1308.9,238.7 1309,238.1 1309.1,237.4 1309.1,236.7 1309.2,236.1 1309.2,235.4 1309.3,234.7 1309.3,234.1 1309.4,233.4 1309.4,232.7 1309.5,232.1 1309.5,231.4 1309.6,230.7 1309.6,230.1 1309.6,229.4 1309.7,228.7 1309.7,228.1 1309.7,227.4 1309.8,226.7 1309.8,226.1 1309.8,225.4 1309.9,224.7 1309.9,224.1 1309.9,223.4 1309.9,222.7 1310,222.1 1310,221.4 1310,220.7 1310,220.1 1310,219.4 1310.1,218.7 1310.1,218.1 1310.1,217.4 1310.1,216.7 1310.1,216.1 1310.1,215.4 1310.1,214.7 1310.1,214.1 1310.1,213.4 1310.1,212.7 1310.1,212.1 1310.1,211.4 1310.1,210.7 1310.1,210.1 1310.1,209.4 1310.1,208.7 1310.1,208.1 1310,207.4 1310,206.7 1310,206.1 1310,205.4 1310,204.7 1310,204.1 1309.9,203.4 1309.9,202.7 1309.9,202.1 1309.9,201.4 1309.8,200.7 1309.8,200.1 1309.8,199.4 1309.7,198.7 1309.7,198.1 1309.7,197.4 1309.6,196.7 1309.6,196.1 1309.6,195.4 1309.5,194.7 1309.5,194.1 1309.4,193.4 1309.4,192.7 1309.3,192.1 1309.3,191.4 1309.2,190.7 1309.2,190.1 1309.1,189.4 1309.1,188.7 1309,188.1 1308.9,187.4 1308.9,186.7 1308.8,186 1308.8,185.4 1308.7,184.7 1308.6,184 1308.6,183.4 1308.5,182.7 1308.4,182 1308.3,181.4 1308.3,180.7 1308.2,180 1308.1,179.4 1308,178.7 1307.9,178 1307.9,177.4 1307.8,176.7 1307.7,176 1307.6,175.4 1307.5,174.7 1307.4,174 1307.3,173.4 1307.2,172.7 1307.2,172 1307.1,171.4 1307,170.7 1306.9,170 1306.8,169.4 1306.7,168.7 1306.6,168 1306.4,167.4"/>
</g>
<g fill="#000">
<rect x="253.9" y="14.3" width="9.9" height="1075.5"/>
<rect x="248.3" y="1079.2" width="1335.5" height="10.6"/>
<rect x="248.3" y="14.3" width="1335.5" height="8.9"/>
<rect x="1575.4" y="14.3" width="8.4" height="1080"/>
<path d="M238 84.2H256M238 217.6H256M238 351H256M238 484.4H256M238 617.8H256M238 751.3H256M238 884.7H256M238 1018.1H256" stroke="#000" stroke-width="9.8" fill="none"/>
<path d="M248.3 150.9H256M248.3 284.3H256M248.3 417.7H256M248.3 551.1H256M248.3 684.5H256M248.3 818H256M248.3 951.4H256" stroke="#000" stroke-width="9.8" fill="none"/>
<path d="M258.9 1085V1105.2M490.9 1085V1105.2M722.9 1085V1105.2M954.9 1085V1105.2M1186.9 1085V1105.2M1418.9 1085V1105.2" stroke="#000" stroke-width="10.2" fill="none"/>
<path d="M328.7 1085V1094.3M369.6 1085V1094.3M398.6 1085V1094.3M421.1 1085V1094.3M439.4 1085V1094.3M455 1085V1094.3M468.4 1085V1094.3M480.3 1085V1094.3M560.7 1085V1094.3M601.6 1085V1094.3M630.6 1085V1094.3M653.1 1085V1094.3M671.4 1085V1094.3M687 1085V1094.3M700.4 1085V1094.3M712.3 1085V1094.3M792.7 1085V1094.3M833.6 1085V1094.3M862.6 1085V1094.3M885.1 1085V1094.3M903.4 1085V1094.3M919 1085V1094.3M932.4 1085V1094.3M944.3 1085V1094.3M1024.7 1085V1094.3M1065.6 1085V1094.3M1094.6 1085V1094.3M1117.1 1085V1094.3M1135.4 1085V1094.3M1151 1085V1094.3M1164.4 1085V1094.3M1176.3 1085V1094.3M1256.7 1085V1094.3M1297.6 1085V1094.3M1326.6 1085V1094.3M1349.1 1085V1094.3M1367.4 1085V1094.3M1383 1085V1094.3M1396.4 1085V1094.3M1408.3 1085V1094.3M1488.7 1085V1094.3M1529.6 1085V1094.3M1558.6 1085V1094.3" stroke="#000" stroke-width="10.2" fill="none"/>
</g>
<g font-family="'Liberation Serif','Times New Roman',serif" fill="#000">
<g font-size="71.5" text-anchor="end">
<text transform="translate(222.8 106) scale(.96 1)">-0.1</text>
<text transform="translate(222.8 239.4) scale(.96 1)">-0.2</text>
<text transform="translate(222.8 372.8) scale(.96 1)">-0.3</text>
<text transform="translate(222.8 506.2) scale(.96 1)">-0.4</text>
<text transform="translate(222.8 639.6) scale(.96 1)">-0.5</text>
<text transform="translate(222.8 773.1) scale(.96 1)">-0.6</text>
<text transform="translate(222.8 906.5) scale(.96 1)">-0.7</text>
<text transform="translate(222.8 1039.9) scale(.96 1)">-0.8</text>
</g>
<g font-size="70">
<text x="204.9" y="1185.4">10<tspan font-size="50" dx="-1" dy="-27.2">-</tspan><tspan font-size="50" dx="-2">9</tspan></text>
<text x="436.9" y="1185.4">10<tspan font-size="50" dx="-1" dy="-27.2">-</tspan><tspan font-size="50" dx="-2">8</tspan></text>
<text x="668.9" y="1185.4">10<tspan font-size="50" dx="-1" dy="-27.2">-</tspan><tspan font-size="50" dx="-2">7</tspan></text>
<text x="900.9" y="1185.4">10<tspan font-size="50" dx="-1" dy="-27.2">-</tspan><tspan font-size="50" dx="-2">6</tspan></text>
<text x="1132.9" y="1185.4">10<tspan font-size="50" dx="-1" dy="-27.2">-</tspan><tspan font-size="50" dx="-2">5</tspan></text>
<text x="1364.9" y="1185.4">10<tspan font-size="50" dx="-1" dy="-27.2">-</tspan><tspan font-size="50" dx="-2">4</tspan></text>
</g>
<text font-size="89" y="1282.6"><tspan x="681">log I/</tspan><tspan x="873" y="1284.2" font-size="69">(</tspan><tspan x="898" y="1282.6">A</tspan><tspan x="960.2" y="1288.4" font-size="80">·</tspan><tspan x="984.8" y="1282.6">cm</tspan><tspan x="1093.6" y="1247.5" font-size="59">-2</tspan><tspan x="1143.4" y="1284.2" font-size="69">)</tspan></text>
<text font-size="91" transform="translate(77.8 684.4) rotate(-90)">E/V</text>
</g>
<rect x="1359.1" y="22.6" width="217" height="307.7" fill="#fff" stroke="#000" stroke-width="1.6"/>
<rect x="1575.4" y="14.1" width="8.4" height="330"/>
<rect x="1350" y="14.1" width="230" height="8.5"/>
<g stroke-width="7.6" stroke-linecap="round" fill="none">
<path d="M1373 64.3H1510" stroke="#515151"/>
<path d="M1373 140.2H1510" stroke="#F14040"/>
<path d="M1373 216H1510" stroke="#1A6FDF"/>
<path d="M1373 291.8H1510" stroke="#37AD6B"/>
</g>
<rect x="1430" y="53.9" width="21.4" height="20.4" fill="#515151"/>
<circle cx="1440.7" cy="140.2" r="10.8" fill="#F14040"/>
<path d="M1440.7 200l13.6 24h-27.2Z" fill="#1A6FDF"/>
<path d="M1440.7 307.8l13.6 -24h-27.2Z" fill="#37AD6B"/>
<g font-family="'Liberation Serif','Times New Roman',serif" font-weight="bold" font-size="61" fill="#000">
<text x="1507.5" y="85.3">#1</text>
<text x="1507.5" y="161.2">#2</text>
<text x="1507.5" y="237">#3</text>
<text x="1507.5" y="312.8">#4</text>
</g>
</svg>
</body></html>
